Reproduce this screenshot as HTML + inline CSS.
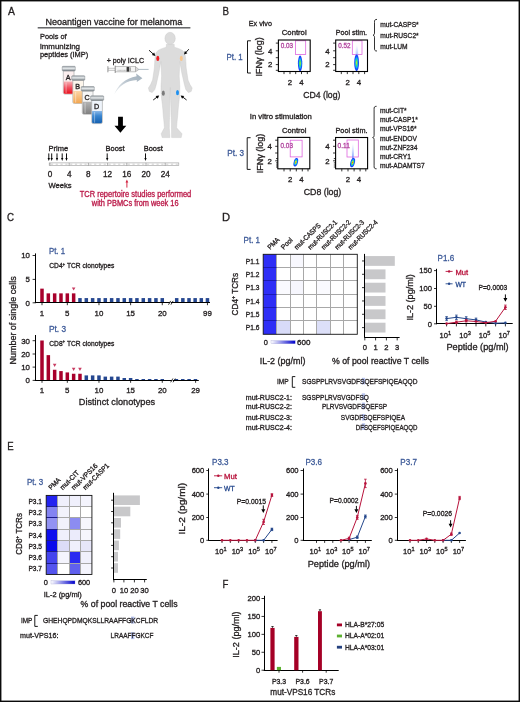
<!DOCTYPE html><html><head><meta charset="utf-8"><style>html,body{margin:0;padding:0;background:#fff;overflow:hidden;}svg{display:block;will-change:transform;}svg text{stroke-width:0.32px;}</style></head><body>
<svg width="520" height="702" viewBox="0 0 520 702" font-family='"Liberation Sans", sans-serif'>
<defs><linearGradient id="gsc" x1="0" x2="1" y1="0" y2="0"><stop offset="0" stop-color="#ffffff"/><stop offset="1" stop-color="#0000cc"/></linearGradient><linearGradient id="lA" x1="0" x2="0" y1="0" y2="1"><stop offset="0" stop-color="#f6b0b4"/><stop offset="0.5" stop-color="#f05060"/><stop offset="1" stop-color="#e8101c"/></linearGradient><linearGradient id="lB" x1="0" x2="0" y1="0" y2="1"><stop offset="0" stop-color="#fbd6a8"/><stop offset="1" stop-color="#f2a650"/></linearGradient><linearGradient id="lC" x1="0" x2="0" y1="0" y2="1"><stop offset="0" stop-color="#b4b4b4"/><stop offset="1" stop-color="#808080"/></linearGradient><linearGradient id="lD" x1="0" x2="0" y1="0" y2="1"><stop offset="0" stop-color="#8ab8e8"/><stop offset="0.4" stop-color="#3a86d0"/><stop offset="1" stop-color="#1560b0"/></linearGradient><linearGradient id="cap" x1="0" x2="0" y1="0" y2="1"><stop offset="0" stop-color="#9aa2a8"/><stop offset="0.45" stop-color="#e4e8ea"/><stop offset="1" stop-color="#7c848a"/></linearGradient><radialGradient id="blobA" cx="0.5" cy="0.5" r="0.5"><stop offset="0" stop-color="#e0e030"/><stop offset="0.3" stop-color="#40e070"/><stop offset="0.55" stop-color="#10b0f0"/><stop offset="0.8" stop-color="#1048ff"/><stop offset="1" stop-color="#2040f0"/></radialGradient><radialGradient id="blobB" cx="0.5" cy="0.5" r="0.5"><stop offset="0" stop-color="#f04818"/><stop offset="0.22" stop-color="#f0d020"/><stop offset="0.42" stop-color="#40e070"/><stop offset="0.62" stop-color="#10a8f0"/><stop offset="0.85" stop-color="#1040ff"/><stop offset="1" stop-color="#2040e8"/></radialGradient><linearGradient id="tail" x1="0" x2="0" y1="0" y2="1"><stop offset="0" stop-color="#c8d4ff" stop-opacity="0"/><stop offset="0.5" stop-color="#8aa4ff" stop-opacity="0.55"/><stop offset="1" stop-color="#3060ff" stop-opacity="0.9"/></linearGradient><linearGradient id="carrow" x1="0" x2="1" y1="1" y2="0"><stop offset="0" stop-color="#eef1f3"/><stop offset="0.6" stop-color="#b4c0ca"/><stop offset="1" stop-color="#a2b0bc"/></linearGradient></defs>
<rect x="0" y="0" width="520" height="702" fill="#fff"/>
<text x="7.9" y="15.4" font-size="11.2" textLength="6.9" lengthAdjust="spacingAndGlyphs" fill="#231f20" stroke="#231f20">A</text>
<text x="45.4" y="24.6" font-size="9.6" textLength="137" lengthAdjust="spacingAndGlyphs" fill="#231f20" stroke="#231f20">Neoantigen vaccine for melanoma</text>
<rect x="37.7" y="27.1" width="152.7" height="1.4" fill="#58595b"/>
<text x="40" y="38.7" font-size="8.0" textLength="26.6" lengthAdjust="spacingAndGlyphs" fill="#231f20" stroke="#231f20">Pools of</text>
<text x="40" y="48.8" font-size="8.0" textLength="40" lengthAdjust="spacingAndGlyphs" fill="#231f20" stroke="#231f20">immunizing</text>
<text x="40" y="57.2" font-size="8.0" textLength="48.2" lengthAdjust="spacingAndGlyphs" fill="#231f20" stroke="#231f20">peptides (IMP)</text>
<path d="M63.300000000000004,70.89999999999999 L63.300000000000004,92.6 Q63.300000000000004,94.1 64.80000000000001,94.1 L72.5,94.1 Q74.0,94.1 74.0,92.6 L74.0,70.89999999999999 Z" fill="#fcefef" stroke="#aeaeae" stroke-width="0.7"/>
<path d="M63.7,81.49999999999999 L63.7,92.6 Q63.7,93.8 65.10000000000001,93.8 L72.2,93.8 Q73.6,93.8 73.6,92.6 L73.6,81.49999999999999 Z" fill="url(#lA)" stroke="none" stroke-width="1"/>
<rect x="65.5" y="82.49999999999999" width="1.2" height="10.7" fill="#ffffff" opacity="0.35"/>
<rect x="62.2" y="66.3" width="13.1" height="4.6" rx="0.8" fill="url(#cap)" stroke="#6e767c" stroke-width="0.4"/>
<text x="68.2" y="79.49999999999999" font-size="7.2" text-anchor="middle" fill="#231f20" stroke="#231f20">A</text>
<path d="M72.8,80.3 L72.8,102.0 Q72.8,103.5 74.3,103.5 L82.0,103.5 Q83.5,103.5 83.5,102.0 L83.5,80.3 Z" fill="#fdf6ec" stroke="#aeaeae" stroke-width="0.7"/>
<path d="M73.2,90.89999999999999 L73.2,102.0 Q73.2,103.2 74.6,103.2 L81.7,103.2 Q83.1,103.2 83.1,102.0 L83.1,90.89999999999999 Z" fill="url(#lB)" stroke="none" stroke-width="1"/>
<rect x="75.0" y="91.89999999999999" width="1.2" height="10.7" fill="#ffffff" opacity="0.35"/>
<rect x="71.7" y="75.7" width="13.1" height="4.6" rx="0.8" fill="url(#cap)" stroke="#6e767c" stroke-width="0.4"/>
<text x="77.7" y="88.89999999999999" font-size="7.2" text-anchor="middle" fill="#231f20" stroke="#231f20">B</text>
<path d="M82.3,91.1 L82.3,112.8 Q82.3,114.3 83.8,114.3 L91.5,114.3 Q93.0,114.3 93.0,112.8 L93.0,91.1 Z" fill="#f6f6f6" stroke="#aeaeae" stroke-width="0.7"/>
<path d="M82.7,101.69999999999999 L82.7,112.8 Q82.7,114.0 84.1,114.0 L91.2,114.0 Q92.6,114.0 92.6,112.8 L92.6,101.69999999999999 Z" fill="url(#lC)" stroke="none" stroke-width="1"/>
<rect x="84.5" y="102.69999999999999" width="1.2" height="10.7" fill="#ffffff" opacity="0.35"/>
<rect x="81.2" y="86.5" width="13.1" height="4.6" rx="0.8" fill="url(#cap)" stroke="#6e767c" stroke-width="0.4"/>
<text x="87.2" y="99.69999999999999" font-size="7.2" text-anchor="middle" fill="#231f20" stroke="#231f20">C</text>
<path d="M91.69999999999999,100.39999999999999 L91.69999999999999,122.1 Q91.69999999999999,123.6 93.19999999999999,123.6 L100.89999999999999,123.6 Q102.39999999999999,123.6 102.39999999999999,122.1 L102.39999999999999,100.39999999999999 Z" fill="#eef4fb" stroke="#aeaeae" stroke-width="0.7"/>
<path d="M92.1,110.99999999999999 L92.1,122.1 Q92.1,123.3 93.49999999999999,123.3 L100.6,123.3 Q101.99999999999999,123.3 101.99999999999999,122.1 L101.99999999999999,110.99999999999999 Z" fill="url(#lD)" stroke="none" stroke-width="1"/>
<rect x="93.89999999999999" y="111.99999999999999" width="1.2" height="10.7" fill="#ffffff" opacity="0.35"/>
<rect x="90.6" y="95.8" width="13.1" height="4.6" rx="0.8" fill="url(#cap)" stroke="#6e767c" stroke-width="0.4"/>
<text x="96.6" y="108.99999999999999" font-size="7.2" text-anchor="middle" fill="#231f20" stroke="#231f20">D</text>
<line x1="107.9" y1="66.2" x2="107.9" y2="72.3" stroke="#7a7a7a" stroke-width="0.8"/>
<rect x="108.3" y="68.1" width="7.0" height="2.2" fill="#f2f2f2" stroke="#8a8a8a" stroke-width="0.4"/>
<line x1="115.2" y1="65.6" x2="115.2" y2="73.0" stroke="#7a7a7a" stroke-width="0.8"/>
<rect x="115.6" y="66.6" width="20.0" height="5.3" fill="#f4f4f4" stroke="#8c8c8c" stroke-width="0.5"/>
<line x1="118.0" y1="69.8" x2="118.0" y2="71.0" stroke="#6a6a6a" stroke-width="0.35"/>
<line x1="119.3" y1="69.8" x2="119.3" y2="71.0" stroke="#6a6a6a" stroke-width="0.35"/>
<line x1="120.6" y1="69.8" x2="120.6" y2="71.0" stroke="#6a6a6a" stroke-width="0.35"/>
<line x1="121.9" y1="69.8" x2="121.9" y2="71.0" stroke="#6a6a6a" stroke-width="0.35"/>
<line x1="123.2" y1="69.8" x2="123.2" y2="71.0" stroke="#6a6a6a" stroke-width="0.35"/>
<line x1="124.5" y1="69.8" x2="124.5" y2="71.0" stroke="#6a6a6a" stroke-width="0.35"/>
<line x1="125.8" y1="69.8" x2="125.8" y2="71.0" stroke="#6a6a6a" stroke-width="0.35"/>
<rect x="126.6" y="66.9" width="2.6" height="4.7" fill="#3a3a3a"/>
<rect x="129.6" y="67.3" width="1.2" height="3.9" fill="#9a9a9a"/>
<path d="M135.6,66.8 L138.2,68.7 L138.2,70.2 L135.6,71.7 Z" fill="#dcdcdc" stroke="#8a8a8a" stroke-width="0.4"/>
<line x1="138.2" y1="69.4" x2="148.6" y2="69.4" stroke="#8fa0ad" stroke-width="0.7"/>
<text x="106.7" y="63.1" font-size="7.5" textLength="37.4" lengthAdjust="spacingAndGlyphs" fill="#231f20" stroke="#231f20">+ poly ICLC</text>
<path d="M114.2,94.6 C117.5,85.5 125,78.3 136.6,76.3 L136.1,73.4 L142.4,78.3 L136.8,82.0 L136.8,80.0 C126.5,80.6 119,86 114.2,94.6 Z" fill="url(#carrow)" stroke="none" stroke-width="1"/>
<path d="M166.4,44.2 L166.3,47.2 C162.5,48.3 158.2,49.6 156.4,52.2 C155.0,54.5 154.8,60 154.4,68 L152.6,80 L150.6,84.6 L148.4,88.0 L149.4,91.4 L152.2,92.6 L154.8,89.6 L156.3,84.4 L158.8,73 L160.9,61.5 L161.6,76 L161.0,86 C160.6,95 162.4,103 162.9,110 C163.2,117 164.2,122 164.4,127.8 L161.2,133.8 L162.2,137.6 L169.9,137.6 L169.3,128 C169.3,120 169.8,114 169.7,108 L170.3,87.5 L170.9,108 C170.9,114 171.5,120 171.5,128 L171.6,137.6 L181.2,137.6 L182.0,133.8 L176.6,127.8 C176.8,122 177.8,117 178.1,110 C178.6,103 180.2,95 179.8,86 L179.2,76 L179.8,61.5 L181.8,73 L184.4,84.4 L185.8,89.6 L188.4,92.6 L191.2,91.4 L192.2,88.0 L190.0,84.6 L188.0,80 L186.2,68 C185.8,60 185.6,54.5 184.2,52.2 C182.4,49.6 178.1,48.3 174.3,47.2 L174.2,44.2 Z" fill="#dcdcdc" stroke="#c8c8c8" stroke-width="0.4"/>
<ellipse cx="170.1" cy="38.4" rx="5.2" ry="6.1" fill="#dcdcdc" stroke="#c8c8c8" stroke-width="0.4"/>
<ellipse cx="157.8" cy="58.4" rx="1.5" ry="2.6" fill="#ee1c24"/>
<ellipse cx="181.3" cy="58.4" rx="1.5" ry="2.6" fill="#f9c68c"/>
<ellipse cx="163.3" cy="93.2" rx="1.5" ry="2.6" fill="#7a7a7a"/>
<ellipse cx="177.5" cy="92.7" rx="1.5" ry="2.6" fill="#1e90f0"/>
<line x1="149.0" y1="50.2" x2="153.39933523112285" y2="54.186897553205085" stroke="#000" stroke-width="0.9"/>
<path d="M155.4,56.0 L151.8872587333488,55.11081565827683 L154.17042477746094,52.59146002339448 Z" fill="#000" stroke="none" stroke-width="1"/>
<line x1="188.8" y1="49.2" x2="185.7937823648408" y2="52.58199483955413" stroke="#000" stroke-width="0.9"/>
<path d="M184.0,54.6 L184.85536844249353,51.07887165420143 L187.396560126018,53.33770870622316 Z" fill="#000" stroke="none" stroke-width="1"/>
<line x1="153.2" y1="100.0" x2="157.0572628245118" y2="97.04276516787426" stroke="#000" stroke-width="0.9"/>
<path d="M159.2,95.4 L157.694793268083,98.69611175389909 L155.62612601964872,95.99785012550657 Z" fill="#000" stroke="none" stroke-width="1"/>
<line x1="186.6" y1="100.0" x2="182.74273717548817" y2="97.04276516787426" stroke="#000" stroke-width="0.9"/>
<path d="M180.6,95.4 L184.17387398035126,95.99785012550657 L182.10520673191698,98.69611175389909 Z" fill="#000" stroke="none" stroke-width="1"/>
<path d="M118.1,116.8 L122.9,116.8 L122.9,125.8 L126.3,125.8 L120.4,132.8 L114.5,125.8 L118.1,125.8 Z" fill="#000" stroke="none" stroke-width="1"/>
<text x="48.5" y="150.5" font-size="7.6" textLength="19.6" lengthAdjust="spacingAndGlyphs" fill="#231f20" stroke="#231f20">Prime</text>
<text x="105.5" y="150.5" font-size="7.6" textLength="19.1" lengthAdjust="spacingAndGlyphs" fill="#231f20" stroke="#231f20">Boost</text>
<text x="143.7" y="150.5" font-size="7.6" textLength="19.1" lengthAdjust="spacingAndGlyphs" fill="#231f20" stroke="#231f20">Boost</text>
<line x1="48.8" y1="153.4" x2="48.8" y2="158.4" stroke="#000" stroke-width="0.95"/>
<path d="M47.65,157.9 L49.949999999999996,157.9 L48.8,160.9 Z" fill="#000" stroke="none" stroke-width="1"/>
<line x1="51.7" y1="153.4" x2="51.7" y2="158.4" stroke="#000" stroke-width="0.95"/>
<path d="M50.550000000000004,157.9 L52.85,157.9 L51.7,160.9 Z" fill="#000" stroke="none" stroke-width="1"/>
<line x1="57.0" y1="153.4" x2="57.0" y2="158.4" stroke="#000" stroke-width="0.95"/>
<path d="M55.85,157.9 L58.15,157.9 L57.0,160.9 Z" fill="#000" stroke="none" stroke-width="1"/>
<line x1="62.2" y1="153.4" x2="62.2" y2="158.4" stroke="#000" stroke-width="0.95"/>
<path d="M61.050000000000004,157.9 L63.35,157.9 L62.2,160.9 Z" fill="#000" stroke="none" stroke-width="1"/>
<line x1="66.5" y1="153.4" x2="66.5" y2="158.4" stroke="#000" stroke-width="0.95"/>
<path d="M65.35,157.9 L67.65,157.9 L66.5,160.9 Z" fill="#000" stroke="none" stroke-width="1"/>
<line x1="107.2" y1="153.4" x2="107.2" y2="158.4" stroke="#000" stroke-width="0.95"/>
<path d="M106.05,157.9 L108.35000000000001,157.9 L107.2,160.9 Z" fill="#000" stroke="none" stroke-width="1"/>
<line x1="145.5" y1="153.4" x2="145.5" y2="158.4" stroke="#000" stroke-width="0.95"/>
<path d="M144.35,157.9 L146.65,157.9 L145.5,160.9 Z" fill="#000" stroke="none" stroke-width="1"/>
<rect x="49.2" y="162.9" width="129.6" height="2.6" fill="#fff" stroke="#9a9a9a" stroke-width="0.6"/>
<line x1="50.9" y1="164.2" x2="53.1" y2="164.2" stroke="#adadad" stroke-width="0.55"/>
<line x1="55.699999999999996" y1="164.2" x2="57.9" y2="164.2" stroke="#adadad" stroke-width="0.55"/>
<line x1="60.5" y1="164.2" x2="62.7" y2="164.2" stroke="#adadad" stroke-width="0.55"/>
<line x1="65.30000000000001" y1="164.2" x2="67.5" y2="164.2" stroke="#adadad" stroke-width="0.55"/>
<line x1="70.10000000000001" y1="164.2" x2="72.3" y2="164.2" stroke="#adadad" stroke-width="0.55"/>
<line x1="74.9" y1="164.2" x2="77.1" y2="164.2" stroke="#adadad" stroke-width="0.55"/>
<line x1="79.7" y1="164.2" x2="81.89999999999999" y2="164.2" stroke="#adadad" stroke-width="0.55"/>
<line x1="84.5" y1="164.2" x2="86.69999999999999" y2="164.2" stroke="#adadad" stroke-width="0.55"/>
<line x1="89.30000000000001" y1="164.2" x2="91.5" y2="164.2" stroke="#adadad" stroke-width="0.55"/>
<line x1="94.1" y1="164.2" x2="96.29999999999998" y2="164.2" stroke="#adadad" stroke-width="0.55"/>
<line x1="98.9" y1="164.2" x2="101.1" y2="164.2" stroke="#adadad" stroke-width="0.55"/>
<line x1="103.7" y1="164.2" x2="105.89999999999999" y2="164.2" stroke="#adadad" stroke-width="0.55"/>
<line x1="108.5" y1="164.2" x2="110.69999999999999" y2="164.2" stroke="#adadad" stroke-width="0.55"/>
<line x1="113.30000000000001" y1="164.2" x2="115.5" y2="164.2" stroke="#adadad" stroke-width="0.55"/>
<line x1="118.10000000000001" y1="164.2" x2="120.3" y2="164.2" stroke="#adadad" stroke-width="0.55"/>
<line x1="122.9" y1="164.2" x2="125.1" y2="164.2" stroke="#adadad" stroke-width="0.55"/>
<line x1="127.7" y1="164.2" x2="129.9" y2="164.2" stroke="#adadad" stroke-width="0.55"/>
<line x1="132.5" y1="164.2" x2="134.7" y2="164.2" stroke="#adadad" stroke-width="0.55"/>
<line x1="137.29999999999998" y1="164.2" x2="139.49999999999997" y2="164.2" stroke="#adadad" stroke-width="0.55"/>
<line x1="142.1" y1="164.2" x2="144.29999999999998" y2="164.2" stroke="#adadad" stroke-width="0.55"/>
<line x1="146.9" y1="164.2" x2="149.1" y2="164.2" stroke="#adadad" stroke-width="0.55"/>
<line x1="151.70000000000002" y1="164.2" x2="153.9" y2="164.2" stroke="#adadad" stroke-width="0.55"/>
<line x1="156.5" y1="164.2" x2="158.7" y2="164.2" stroke="#adadad" stroke-width="0.55"/>
<line x1="161.29999999999998" y1="164.2" x2="163.49999999999997" y2="164.2" stroke="#adadad" stroke-width="0.55"/>
<line x1="166.1" y1="164.2" x2="168.29999999999998" y2="164.2" stroke="#adadad" stroke-width="0.55"/>
<line x1="170.9" y1="164.2" x2="173.1" y2="164.2" stroke="#adadad" stroke-width="0.55"/>
<line x1="175.70000000000002" y1="164.2" x2="177.9" y2="164.2" stroke="#adadad" stroke-width="0.55"/>
<line x1="50.0" y1="162.9" x2="50.0" y2="165.5" stroke="#7a7a7a" stroke-width="0.6"/>
<line x1="69.2" y1="162.9" x2="69.2" y2="165.5" stroke="#7a7a7a" stroke-width="0.6"/>
<line x1="88.4" y1="162.9" x2="88.4" y2="165.5" stroke="#7a7a7a" stroke-width="0.6"/>
<line x1="107.6" y1="162.9" x2="107.6" y2="165.5" stroke="#7a7a7a" stroke-width="0.6"/>
<line x1="126.8" y1="162.9" x2="126.8" y2="165.5" stroke="#7a7a7a" stroke-width="0.6"/>
<line x1="146.0" y1="162.9" x2="146.0" y2="165.5" stroke="#7a7a7a" stroke-width="0.6"/>
<line x1="165.2" y1="162.9" x2="165.2" y2="165.5" stroke="#7a7a7a" stroke-width="0.6"/>
<text x="50.0" y="176.6" font-size="8.2" text-anchor="middle" fill="#231f20" stroke="#231f20">0</text>
<text x="69.2" y="176.6" font-size="8.2" text-anchor="middle" fill="#231f20" stroke="#231f20">4</text>
<text x="88.4" y="176.6" font-size="8.2" text-anchor="middle" fill="#231f20" stroke="#231f20">8</text>
<text x="107.6" y="176.6" font-size="8.2" text-anchor="middle" fill="#231f20" stroke="#231f20">12</text>
<text x="126.8" y="176.6" font-size="8.2" text-anchor="middle" fill="#231f20" stroke="#231f20">16</text>
<text x="146.0" y="176.6" font-size="8.2" text-anchor="middle" fill="#231f20" stroke="#231f20">20</text>
<text x="165.2" y="176.6" font-size="8.2" text-anchor="middle" fill="#231f20" stroke="#231f20">24</text>
<text x="48.6" y="188.4" font-size="7.6" fill="#231f20" stroke="#231f20">Weeks</text>
<line x1="126.9" y1="181.9" x2="126.9" y2="187.6" stroke="#d21e3c" stroke-width="0.95"/>
<path d="M125.5,182.4 L128.3,182.4 L126.9,179.4 Z" fill="#d21e3c" stroke="none" stroke-width="1"/>
<text x="79.7" y="197.0" font-size="8.2" textLength="111.6" lengthAdjust="spacingAndGlyphs" fill="#bb1a49" stroke="#bb1a49">TCR repertoire studies performed</text>
<text x="91.8" y="206.2" font-size="8.2" textLength="86.8" lengthAdjust="spacingAndGlyphs" fill="#bb1a49" stroke="#bb1a49">with PBMCs from week 16</text>
<text x="222.4" y="15.3" font-size="11.2" textLength="6.5" lengthAdjust="spacingAndGlyphs" fill="#231f20" stroke="#231f20">B</text>
<text x="248.8" y="25.7" font-size="7.6" textLength="23.1" lengthAdjust="spacingAndGlyphs" fill="#231f20" stroke="#231f20">Ex vivo</text>
<text x="281.8" y="35.0" font-size="7.6" textLength="24.8" lengthAdjust="spacingAndGlyphs" fill="#231f20" stroke="#231f20">Control</text>
<text x="335.8" y="35.2" font-size="7.6" textLength="31.3" lengthAdjust="spacingAndGlyphs" fill="#231f20" stroke="#231f20">Pool stim.</text>
<rect x="295.4" y="40.8" width="10.300000000000011" height="13.700000000000003" fill="none" stroke="#dc5cdc" stroke-width="0.75"/>
<ellipse cx="0" cy="0" rx="2.2" ry="7.8" fill="url(#blobA)" transform="translate(300.1,63.4) rotate(0)"/>
<rect x="278.4" y="40.0" width="31.8" height="31.5" fill="none" stroke="#000" stroke-width="1.1"/>
<text x="280.8" y="48.4" font-size="7.0" textLength="12.3" lengthAdjust="spacingAndGlyphs" fill="#b2479f" stroke="#b2479f">0.03</text>
<line x1="275.79999999999995" y1="43.1" x2="278.4" y2="43.1" stroke="#000" stroke-width="0.8"/>
<line x1="275.79999999999995" y1="50.8" x2="278.4" y2="50.8" stroke="#000" stroke-width="0.8"/>
<line x1="275.79999999999995" y1="57.7" x2="278.4" y2="57.7" stroke="#000" stroke-width="0.8"/>
<line x1="275.79999999999995" y1="64.6" x2="278.4" y2="64.6" stroke="#000" stroke-width="0.8"/>
<line x1="275.79999999999995" y1="70.3" x2="278.4" y2="70.3" stroke="#000" stroke-width="0.8"/>
<line x1="284.0" y1="71.5" x2="284.0" y2="74.1" stroke="#000" stroke-width="0.8"/>
<line x1="290.0" y1="71.5" x2="290.0" y2="74.1" stroke="#000" stroke-width="0.8"/>
<line x1="295.7" y1="71.5" x2="295.7" y2="74.1" stroke="#000" stroke-width="0.8"/>
<line x1="301.5" y1="71.5" x2="301.5" y2="74.1" stroke="#000" stroke-width="0.8"/>
<line x1="307.3" y1="71.5" x2="307.3" y2="74.1" stroke="#000" stroke-width="0.8"/>
<text x="270.2" y="53.599999999999994" font-size="7.8" text-anchor="middle" fill="#231f20" stroke="#231f20">4</text>
<text x="270.2" y="67.39999999999999" font-size="7.8" text-anchor="middle" fill="#231f20" stroke="#231f20">2</text>
<text x="290.0" y="84.7" font-size="7.8" text-anchor="middle" fill="#231f20" stroke="#231f20">2</text>
<text x="301.5" y="84.7" font-size="7.8" text-anchor="middle" fill="#231f20" stroke="#231f20">4</text>
<rect x="352.3" y="40.8" width="9.699999999999989" height="13.800000000000004" fill="none" stroke="#dc5cdc" stroke-width="0.75"/>
<ellipse cx="356.90000000000003" cy="53.65" rx="1.3" ry="9.149999999999999" fill="url(#tail)"/>
<ellipse cx="0" cy="0" rx="2.4" ry="8.4" fill="url(#blobA)" transform="translate(356.6,62.8) rotate(0)"/>
<rect x="335.7" y="40.0" width="31.8" height="31.5" fill="none" stroke="#000" stroke-width="1.1"/>
<text x="338.3" y="48.4" font-size="7.0" textLength="12.3" lengthAdjust="spacingAndGlyphs" fill="#b2479f" stroke="#b2479f">0.52</text>
<line x1="333.09999999999997" y1="43.1" x2="335.7" y2="43.1" stroke="#000" stroke-width="0.8"/>
<line x1="333.09999999999997" y1="50.8" x2="335.7" y2="50.8" stroke="#000" stroke-width="0.8"/>
<line x1="333.09999999999997" y1="57.7" x2="335.7" y2="57.7" stroke="#000" stroke-width="0.8"/>
<line x1="333.09999999999997" y1="64.6" x2="335.7" y2="64.6" stroke="#000" stroke-width="0.8"/>
<line x1="333.09999999999997" y1="70.3" x2="335.7" y2="70.3" stroke="#000" stroke-width="0.8"/>
<line x1="341.3" y1="71.5" x2="341.3" y2="74.1" stroke="#000" stroke-width="0.8"/>
<line x1="347.3" y1="71.5" x2="347.3" y2="74.1" stroke="#000" stroke-width="0.8"/>
<line x1="353.0" y1="71.5" x2="353.0" y2="74.1" stroke="#000" stroke-width="0.8"/>
<line x1="358.8" y1="71.5" x2="358.8" y2="74.1" stroke="#000" stroke-width="0.8"/>
<line x1="364.6" y1="71.5" x2="364.6" y2="74.1" stroke="#000" stroke-width="0.8"/>
<text x="327.5" y="53.599999999999994" font-size="7.8" text-anchor="middle" fill="#231f20" stroke="#231f20">4</text>
<text x="327.5" y="67.39999999999999" font-size="7.8" text-anchor="middle" fill="#231f20" stroke="#231f20">2</text>
<text x="347.6" y="84.7" font-size="7.8" text-anchor="middle" fill="#231f20" stroke="#231f20">2</text>
<text x="359.0" y="84.7" font-size="7.8" text-anchor="middle" fill="#231f20" stroke="#231f20">4</text>
<text x="226.5" y="59.5" font-size="9.5" textLength="16.2" lengthAdjust="spacingAndGlyphs" fill="#3d5a98" stroke="#3d5a98">Pt. 1</text>
<path d="M250.9,40.8 L247.5,40.8 L247.5,73.0 L250.9,73.0" fill="none" stroke="#000" stroke-width="0.9"/>
<text transform="translate(262.3,56.9) rotate(-90)" x="0" y="0" font-size="8.8" textLength="39.2" lengthAdjust="spacingAndGlyphs" text-anchor="middle" fill="#231f20" stroke="#231f20">IFNγ (log)</text>
<text x="303.2" y="97.9" font-size="9.4" textLength="37.2" lengthAdjust="spacingAndGlyphs" fill="#231f20" stroke="#231f20">CD4 (log)</text>
<path d="M377.0,19.4 C374.5,19.4 374.5,20.4 374.5,22.4 L374.5,33.2 C374.5,34.5 373.7,35.2 373.0,35.2 C373.7,35.2 374.5,35.900000000000006 374.5,37.2 L374.5,48.0 C374.5,50.0 374.5,51.0 377.0,51.0" fill="none" stroke="#000" stroke-width="0.8"/>
<text x="380.2" y="27.0" font-size="7.4" textLength="38.49" lengthAdjust="spacingAndGlyphs" fill="#231f20" stroke="#231f20">mut-CASPS*</text>
<text x="380.2" y="37.85" font-size="7.4" textLength="38.49" lengthAdjust="spacingAndGlyphs" fill="#231f20" stroke="#231f20">mut-RUSC2*</text>
<text x="380.2" y="48.7" font-size="7.4" textLength="27.38" lengthAdjust="spacingAndGlyphs" fill="#231f20" stroke="#231f20">mut-LUM</text>
<text x="249.8" y="119.0" font-size="7.6" textLength="62.1" lengthAdjust="spacingAndGlyphs" fill="#231f20" stroke="#231f20">In vitro stimulation</text>
<text x="281.9" y="133.0" font-size="7.6" textLength="24.6" lengthAdjust="spacingAndGlyphs" fill="#231f20" stroke="#231f20">Control</text>
<text x="335.5" y="133.0" font-size="7.6" textLength="32.0" lengthAdjust="spacingAndGlyphs" fill="#231f20" stroke="#231f20">Pool stim.</text>
<rect x="290.2" y="140.2" width="11.900000000000034" height="16.700000000000017" fill="none" stroke="#dc5cdc" stroke-width="0.75"/>
<ellipse cx="0" cy="0" rx="2.1" ry="4.4" fill="url(#blobB)" transform="translate(295.8,162.2) rotate(15)"/>
<rect x="277.8" y="137.4" width="32.0" height="31.4" fill="none" stroke="#000" stroke-width="1.1"/>
<text x="280.6" y="147.79999999999998" font-size="7.0" textLength="12.3" lengthAdjust="spacingAndGlyphs" fill="#b2479f" stroke="#b2479f">0.03</text>
<line x1="275.2" y1="140.2" x2="277.8" y2="140.2" stroke="#000" stroke-width="0.8"/>
<line x1="275.2" y1="146.3" x2="277.8" y2="146.3" stroke="#000" stroke-width="0.8"/>
<line x1="275.2" y1="153.0" x2="277.8" y2="153.0" stroke="#000" stroke-width="0.8"/>
<line x1="276.0" y1="158.6" x2="277.8" y2="158.6" stroke="#000" stroke-width="0.8"/>
<line x1="275.2" y1="160.8" x2="277.8" y2="160.8" stroke="#000" stroke-width="0.8"/>
<line x1="276.0" y1="162.9" x2="277.8" y2="162.9" stroke="#000" stroke-width="0.8"/>
<line x1="276.0" y1="165.0" x2="277.8" y2="165.0" stroke="#000" stroke-width="0.8"/>
<line x1="276.0" y1="167.0" x2="277.8" y2="167.0" stroke="#000" stroke-width="0.8"/>
<line x1="284.0" y1="168.8" x2="284.0" y2="171.4" stroke="#000" stroke-width="0.8"/>
<line x1="290.2" y1="168.8" x2="290.2" y2="171.4" stroke="#000" stroke-width="0.8"/>
<line x1="296.3" y1="168.8" x2="296.3" y2="171.4" stroke="#000" stroke-width="0.8"/>
<line x1="302.3" y1="168.8" x2="302.3" y2="171.4" stroke="#000" stroke-width="0.8"/>
<line x1="308.0" y1="168.8" x2="308.0" y2="171.4" stroke="#000" stroke-width="0.8"/>
<text x="269.6" y="149.10000000000002" font-size="7.8" text-anchor="middle" fill="#231f20" stroke="#231f20">4</text>
<text x="269.6" y="163.60000000000002" font-size="7.8" text-anchor="middle" fill="#231f20" stroke="#231f20">2</text>
<text x="290.2" y="182.0" font-size="7.8" text-anchor="middle" fill="#231f20" stroke="#231f20">2</text>
<text x="301.3" y="182.0" font-size="7.8" text-anchor="middle" fill="#231f20" stroke="#231f20">4</text>
<rect x="347.0" y="140.0" width="11.300000000000011" height="17.0" fill="none" stroke="#dc5cdc" stroke-width="0.75"/>
<ellipse cx="352.90000000000003" cy="152.55" rx="1.0" ry="10.049999999999997" fill="url(#tail)"/>
<ellipse cx="0" cy="0" rx="2.2" ry="4.8" fill="url(#blobB)" transform="translate(352.6,162.6) rotate(15)"/>
<rect x="335.6" y="137.5" width="32.0" height="31.3" fill="none" stroke="#000" stroke-width="1.1"/>
<text x="337.5" y="147.6" font-size="7.0" textLength="12.3" lengthAdjust="spacingAndGlyphs" fill="#b2479f" stroke="#b2479f">0.11</text>
<line x1="333.0" y1="140.2" x2="335.6" y2="140.2" stroke="#000" stroke-width="0.8"/>
<line x1="333.0" y1="146.3" x2="335.6" y2="146.3" stroke="#000" stroke-width="0.8"/>
<line x1="333.0" y1="153.0" x2="335.6" y2="153.0" stroke="#000" stroke-width="0.8"/>
<line x1="333.8" y1="158.6" x2="335.6" y2="158.6" stroke="#000" stroke-width="0.8"/>
<line x1="333.0" y1="160.8" x2="335.6" y2="160.8" stroke="#000" stroke-width="0.8"/>
<line x1="333.8" y1="162.9" x2="335.6" y2="162.9" stroke="#000" stroke-width="0.8"/>
<line x1="333.8" y1="165.0" x2="335.6" y2="165.0" stroke="#000" stroke-width="0.8"/>
<line x1="333.8" y1="167.0" x2="335.6" y2="167.0" stroke="#000" stroke-width="0.8"/>
<line x1="341.8" y1="168.8" x2="341.8" y2="171.4" stroke="#000" stroke-width="0.8"/>
<line x1="348.0" y1="168.8" x2="348.0" y2="171.4" stroke="#000" stroke-width="0.8"/>
<line x1="354.1" y1="168.8" x2="354.1" y2="171.4" stroke="#000" stroke-width="0.8"/>
<line x1="360.1" y1="168.8" x2="360.1" y2="171.4" stroke="#000" stroke-width="0.8"/>
<line x1="365.8" y1="168.8" x2="365.8" y2="171.4" stroke="#000" stroke-width="0.8"/>
<text x="327.40000000000003" y="149.10000000000002" font-size="7.8" text-anchor="middle" fill="#231f20" stroke="#231f20">4</text>
<text x="327.40000000000003" y="163.60000000000002" font-size="7.8" text-anchor="middle" fill="#231f20" stroke="#231f20">2</text>
<text x="347.8" y="182.0" font-size="7.8" text-anchor="middle" fill="#231f20" stroke="#231f20">2</text>
<text x="359.0" y="182.0" font-size="7.8" text-anchor="middle" fill="#231f20" stroke="#231f20">4</text>
<text x="227.3" y="156.0" font-size="9.5" textLength="16.7" lengthAdjust="spacingAndGlyphs" fill="#3d5a98" stroke="#3d5a98">Pt. 3</text>
<path d="M250.6,137.7 L247.2,137.7 L247.2,169.4 L250.6,169.4" fill="none" stroke="#000" stroke-width="0.9"/>
<text transform="translate(263.2,153.5) rotate(-90)" x="0" y="0" font-size="8.8" textLength="39.5" lengthAdjust="spacingAndGlyphs" text-anchor="middle" fill="#231f20" stroke="#231f20">IFNγ (log)</text>
<text x="303.7" y="195.3" font-size="9.4" textLength="37.6" lengthAdjust="spacingAndGlyphs" fill="#231f20" stroke="#231f20">CD8 (log)</text>
<path d="M376.6,106.3 C374.1,106.3 374.1,107.3 374.1,109.3 L374.1,135.55 C374.1,136.85000000000002 373.3,137.55 372.6,137.55 C373.3,137.55 374.1,138.25 374.1,139.55 L374.1,165.8 C374.1,167.8 374.1,168.8 376.6,168.8" fill="none" stroke="#000" stroke-width="0.8"/>
<text x="380.0" y="113.0" font-size="7.4" textLength="26.64" lengthAdjust="spacingAndGlyphs" fill="#231f20" stroke="#231f20">mut-CIT*</text>
<text x="380.0" y="122.17" font-size="7.4" textLength="37.75" lengthAdjust="spacingAndGlyphs" fill="#231f20" stroke="#231f20">mut-CASP1*</text>
<text x="380.0" y="131.34" font-size="7.4" textLength="36.65" lengthAdjust="spacingAndGlyphs" fill="#231f20" stroke="#231f20">mut-VPS16*</text>
<text x="380.0" y="140.51" font-size="7.4" textLength="37.0" lengthAdjust="spacingAndGlyphs" fill="#231f20" stroke="#231f20">mut-ENDOV</text>
<text x="380.0" y="149.68" font-size="7.4" textLength="37.38" lengthAdjust="spacingAndGlyphs" fill="#231f20" stroke="#231f20">mut-ZNF234</text>
<text x="380.0" y="158.85" font-size="7.4" textLength="30.96" lengthAdjust="spacingAndGlyphs" fill="#231f20" stroke="#231f20">mut-CRY1</text>
<text x="380.0" y="168.01999999999998" font-size="7.4" textLength="44.77" lengthAdjust="spacingAndGlyphs" fill="#231f20" stroke="#231f20">mut-ADAMTS7</text>
<text x="7.0" y="221.0" font-size="11.0" textLength="7.0" lengthAdjust="spacingAndGlyphs" fill="#231f20" stroke="#231f20">C</text>
<rect x="40.25" y="288.64" width="3.5" height="14.16" fill="#a8002c"/>
<rect x="46.58" y="293.36" width="3.5" height="9.44" fill="#a8002c"/>
<rect x="52.91" y="293.36" width="3.5" height="9.44" fill="#a8002c"/>
<rect x="59.24" y="293.36" width="3.5" height="9.44" fill="#a8002c"/>
<rect x="65.57" y="293.36" width="3.5" height="9.44" fill="#a8002c"/>
<rect x="71.9" y="293.36" width="3.5" height="9.44" fill="#a8002c"/>
<rect x="78.23" y="298.08" width="3.5" height="4.72" fill="#254790"/>
<rect x="84.56" y="298.08" width="3.5" height="4.72" fill="#254790"/>
<rect x="90.89" y="298.08" width="3.5" height="4.72" fill="#254790"/>
<rect x="97.22" y="298.08" width="3.5" height="4.72" fill="#254790"/>
<rect x="103.55" y="298.08" width="3.5" height="4.72" fill="#254790"/>
<rect x="109.88" y="298.08" width="3.5" height="4.72" fill="#254790"/>
<rect x="116.21000000000001" y="298.08" width="3.5" height="4.72" fill="#254790"/>
<rect x="122.54" y="298.08" width="3.5" height="4.72" fill="#254790"/>
<rect x="128.87" y="298.08" width="3.5" height="4.72" fill="#254790"/>
<rect x="135.2" y="298.08" width="3.5" height="4.72" fill="#254790"/>
<rect x="141.53" y="298.08" width="3.5" height="4.72" fill="#254790"/>
<rect x="147.86" y="298.08" width="3.5" height="4.72" fill="#254790"/>
<rect x="154.19" y="298.08" width="3.5" height="4.72" fill="#254790"/>
<rect x="160.51999999999998" y="298.08" width="3.5" height="4.72" fill="#254790"/>
<rect x="174.95" y="298.08" width="3.5" height="4.72" fill="#254790"/>
<rect x="181.1" y="298.08" width="3.5" height="4.72" fill="#254790"/>
<rect x="187.25" y="298.08" width="3.5" height="4.72" fill="#254790"/>
<rect x="193.39999999999998" y="298.08" width="3.5" height="4.72" fill="#254790"/>
<rect x="199.54999999999998" y="298.08" width="3.5" height="4.72" fill="#254790"/>
<rect x="205.7" y="298.08" width="3.5" height="4.72" fill="#254790"/>
<line x1="35.5" y1="253.4" x2="35.5" y2="303.2" stroke="#000" stroke-width="1.0"/>
<line x1="34.800000000000004" y1="302.5" x2="210.0" y2="302.5" stroke="#000" stroke-width="1.0"/>
<path d="M168.50000000000003,304.7 L170.70000000000002,300.90000000000003 L171.70000000000002,300.90000000000003 L169.50000000000003,304.7 Z" fill="#fff" stroke="none" stroke-width="1"/>
<line x1="168.50000000000003" y1="304.7" x2="170.70000000000002" y2="300.90000000000003" stroke="#000" stroke-width="0.8"/>
<line x1="170.90000000000003" y1="304.7" x2="173.10000000000002" y2="300.90000000000003" stroke="#000" stroke-width="0.8"/>
<line x1="32.6" y1="255.5" x2="35.2" y2="255.5" stroke="#000" stroke-width="0.8"/>
<text x="30.000000000000004" y="258.3" font-size="7.9" text-anchor="end" fill="#231f20" stroke="#231f20">10</text>
<line x1="32.6" y1="279.4" x2="35.2" y2="279.4" stroke="#000" stroke-width="0.8"/>
<text x="30.000000000000004" y="282.2" font-size="7.9" text-anchor="end" fill="#231f20" stroke="#231f20">5</text>
<line x1="32.6" y1="302.8" x2="35.2" y2="302.8" stroke="#000" stroke-width="0.8"/>
<text x="30.000000000000004" y="305.6" font-size="7.9" text-anchor="end" fill="#231f20" stroke="#231f20">0</text>
<line x1="42.0" y1="302.8" x2="42.0" y2="305.2" stroke="#000" stroke-width="0.8"/>
<text x="42.0" y="315.8" font-size="7.9" text-anchor="middle" fill="#231f20" stroke="#231f20">1</text>
<line x1="67.32" y1="302.8" x2="67.32" y2="305.2" stroke="#000" stroke-width="0.8"/>
<text x="67.32" y="315.8" font-size="7.9" text-anchor="middle" fill="#231f20" stroke="#231f20">5</text>
<line x1="98.97" y1="302.8" x2="98.97" y2="305.2" stroke="#000" stroke-width="0.8"/>
<text x="98.97" y="315.8" font-size="7.9" text-anchor="middle" fill="#231f20" stroke="#231f20">10</text>
<line x1="130.62" y1="302.8" x2="130.62" y2="305.2" stroke="#000" stroke-width="0.8"/>
<text x="130.62" y="315.8" font-size="7.9" text-anchor="middle" fill="#231f20" stroke="#231f20">15</text>
<line x1="162.26999999999998" y1="302.8" x2="162.26999999999998" y2="305.2" stroke="#000" stroke-width="0.8"/>
<text x="162.26999999999998" y="315.8" font-size="7.9" text-anchor="middle" fill="#231f20" stroke="#231f20">20</text>
<line x1="207.45" y1="302.8" x2="207.45" y2="305.2" stroke="#000" stroke-width="0.8"/>
<text x="207.45" y="315.8" font-size="7.9" text-anchor="middle" fill="#231f20" stroke="#231f20">99</text>
<path d="M71.85000000000001,287.46000000000004 L75.45,287.46000000000004 L73.65,290.56000000000006 Z" fill="#c83c62" stroke="none" stroke-width="1"/>
<text x="49.0" y="254.0" font-size="9.5" textLength="16.0" lengthAdjust="spacingAndGlyphs" fill="#3d5a98" stroke="#3d5a98">Pt. 1</text>
<text x="49.3" y="268.4" font-size="7.4" fill="#231f20" textLength="65" lengthAdjust="spacingAndGlyphs" stroke="#231f20">CD4<tspan font-size="5" dy="-2.6">+</tspan><tspan dy="2.6"> TCR clonotypes</tspan></text>
<rect x="40.25" y="340.5" width="3.5" height="39.900000000000006" fill="#a8002c"/>
<rect x="46.58" y="355.13" width="3.5" height="25.270000000000003" fill="#a8002c"/>
<rect x="52.91" y="369.76" width="3.5" height="10.64" fill="#a8002c"/>
<rect x="59.24" y="371.09" width="3.5" height="9.31" fill="#a8002c"/>
<rect x="65.57" y="372.41999999999996" width="3.5" height="7.98" fill="#a8002c"/>
<rect x="71.9" y="373.75" width="3.5" height="6.65" fill="#a8002c"/>
<rect x="78.23" y="373.75" width="3.5" height="6.65" fill="#a8002c"/>
<rect x="84.56" y="375.4" width="3.5" height="5.0" fill="#254790"/>
<rect x="90.89" y="375.4" width="3.5" height="5.0" fill="#254790"/>
<rect x="97.22" y="375.4" width="3.5" height="5.0" fill="#254790"/>
<rect x="103.55" y="376.59999999999997" width="3.5" height="3.8" fill="#254790"/>
<rect x="109.88" y="376.59999999999997" width="3.5" height="3.8" fill="#254790"/>
<rect x="116.21000000000001" y="376.59999999999997" width="3.5" height="3.8" fill="#254790"/>
<rect x="122.54" y="378.0" width="3.5" height="2.4" fill="#254790"/>
<rect x="128.87" y="378.0" width="3.5" height="2.4" fill="#254790"/>
<rect x="135.2" y="379.0" width="3.5" height="1.4" fill="#254790"/>
<rect x="141.53" y="379.0" width="3.5" height="1.4" fill="#254790"/>
<rect x="147.86" y="379.0" width="3.5" height="1.4" fill="#254790"/>
<rect x="154.19" y="379.0" width="3.5" height="1.4" fill="#254790"/>
<rect x="160.51999999999998" y="379.0" width="3.5" height="1.4" fill="#254790"/>
<rect x="174.65" y="379.0" width="3.5" height="1.4" fill="#254790"/>
<rect x="181.0" y="379.0" width="3.5" height="1.4" fill="#254790"/>
<rect x="187.35" y="379.0" width="3.5" height="1.4" fill="#254790"/>
<rect x="193.7" y="379.0" width="3.5" height="1.4" fill="#254790"/>
<line x1="35.5" y1="335.0" x2="35.5" y2="380.79999999999995" stroke="#000" stroke-width="1.0"/>
<line x1="34.800000000000004" y1="380.5" x2="198.8" y2="380.5" stroke="#000" stroke-width="1.0"/>
<path d="M170.70000000000002,382.29999999999995 L172.9,378.5 L173.9,378.5 L171.70000000000002,382.29999999999995 Z" fill="#fff" stroke="none" stroke-width="1"/>
<line x1="170.70000000000002" y1="382.29999999999995" x2="172.9" y2="378.5" stroke="#000" stroke-width="0.8"/>
<line x1="173.10000000000002" y1="382.29999999999995" x2="175.3" y2="378.5" stroke="#000" stroke-width="0.8"/>
<line x1="32.6" y1="340.7" x2="35.2" y2="340.7" stroke="#000" stroke-width="0.8"/>
<text x="30.000000000000004" y="343.5" font-size="7.9" text-anchor="end" fill="#231f20" stroke="#231f20">30</text>
<line x1="32.6" y1="354.0" x2="35.2" y2="354.0" stroke="#000" stroke-width="0.8"/>
<text x="30.000000000000004" y="356.8" font-size="7.9" text-anchor="end" fill="#231f20" stroke="#231f20">20</text>
<line x1="32.6" y1="367.1" x2="35.2" y2="367.1" stroke="#000" stroke-width="0.8"/>
<text x="30.000000000000004" y="369.90000000000003" font-size="7.9" text-anchor="end" fill="#231f20" stroke="#231f20">10</text>
<line x1="32.6" y1="380.4" x2="35.2" y2="380.4" stroke="#000" stroke-width="0.8"/>
<text x="30.000000000000004" y="383.2" font-size="7.9" text-anchor="end" fill="#231f20" stroke="#231f20">0</text>
<line x1="42.0" y1="380.4" x2="42.0" y2="382.79999999999995" stroke="#000" stroke-width="0.8"/>
<text x="42.0" y="393.4" font-size="7.9" text-anchor="middle" fill="#231f20" stroke="#231f20">1</text>
<line x1="67.32" y1="380.4" x2="67.32" y2="382.79999999999995" stroke="#000" stroke-width="0.8"/>
<text x="67.32" y="393.4" font-size="7.9" text-anchor="middle" fill="#231f20" stroke="#231f20">5</text>
<line x1="98.97" y1="380.4" x2="98.97" y2="382.79999999999995" stroke="#000" stroke-width="0.8"/>
<text x="98.97" y="393.4" font-size="7.9" text-anchor="middle" fill="#231f20" stroke="#231f20">10</text>
<line x1="130.62" y1="380.4" x2="130.62" y2="382.79999999999995" stroke="#000" stroke-width="0.8"/>
<text x="130.62" y="393.4" font-size="7.9" text-anchor="middle" fill="#231f20" stroke="#231f20">15</text>
<line x1="162.26999999999998" y1="380.4" x2="162.26999999999998" y2="382.79999999999995" stroke="#000" stroke-width="0.8"/>
<text x="162.26999999999998" y="393.4" font-size="7.9" text-anchor="middle" fill="#231f20" stroke="#231f20">20</text>
<line x1="195.6" y1="380.4" x2="195.6" y2="382.79999999999995" stroke="#000" stroke-width="0.8"/>
<text x="195.6" y="393.4" font-size="7.9" text-anchor="middle" fill="#231f20" stroke="#231f20">29</text>
<path d="M52.86,363.86 L56.459999999999994,363.86 L54.66,366.96000000000004 Z" fill="#c83c62" stroke="none" stroke-width="1"/>
<path d="M71.85000000000001,367.85 L75.45,367.85 L73.65,370.95000000000005 Z" fill="#c83c62" stroke="none" stroke-width="1"/>
<path d="M78.18,367.85 L81.78,367.85 L79.98,370.95000000000005 Z" fill="#c83c62" stroke="none" stroke-width="1"/>
<text x="49.0" y="332.0" font-size="9.5" textLength="17.0" lengthAdjust="spacingAndGlyphs" fill="#3d5a98" stroke="#3d5a98">Pt. 3</text>
<text x="49.3" y="346.0" font-size="7.4" fill="#231f20" textLength="65" lengthAdjust="spacingAndGlyphs" stroke="#231f20">CD8<tspan font-size="5" dy="-2.6">+</tspan><tspan dy="2.6"> TCR clonotypes</tspan></text>
<text transform="translate(15.6,320.4) rotate(-90)" x="0" y="0" font-size="9.6" textLength="88.4" lengthAdjust="spacingAndGlyphs" text-anchor="middle" fill="#231f20" stroke="#231f20">Number of single cells</text>
<text x="78.8" y="405.0" font-size="9.6" textLength="76.3" lengthAdjust="spacingAndGlyphs" fill="#231f20" stroke="#231f20">Distinct clonotypes</text>
<text x="222.1" y="220.9" font-size="11.2" textLength="8.1" lengthAdjust="spacingAndGlyphs" fill="#231f20" stroke="#231f20">D</text>
<text x="243.6" y="242.6" font-size="9.5" textLength="16.4" lengthAdjust="spacingAndGlyphs" fill="#3d5a98" stroke="#3d5a98">Pt. 1</text>
<rect x="263.2" y="254.3" width="13.49" height="13.38" fill="#2e2ef6"/>
<rect x="276.64" y="254.3" width="13.49" height="13.38" fill="#ffffff"/>
<rect x="290.08" y="254.3" width="13.49" height="13.38" fill="#f8f8fe"/>
<rect x="303.52" y="254.3" width="13.49" height="13.38" fill="#ffffff"/>
<rect x="316.96" y="254.3" width="13.49" height="13.38" fill="#ffffff"/>
<rect x="330.4" y="254.3" width="13.49" height="13.38" fill="#ffffff"/>
<rect x="343.84" y="254.3" width="13.49" height="13.38" fill="#ffffff"/>
<rect x="263.2" y="267.63" width="13.49" height="13.38" fill="#2e2ef6"/>
<rect x="276.64" y="267.63" width="13.49" height="13.38" fill="#ffffff"/>
<rect x="290.08" y="267.63" width="13.49" height="13.38" fill="#ffffff"/>
<rect x="303.52" y="267.63" width="13.49" height="13.38" fill="#ffffff"/>
<rect x="316.96" y="267.63" width="13.49" height="13.38" fill="#ffffff"/>
<rect x="330.4" y="267.63" width="13.49" height="13.38" fill="#ffffff"/>
<rect x="343.84" y="267.63" width="13.49" height="13.38" fill="#ffffff"/>
<rect x="263.2" y="280.96000000000004" width="13.49" height="13.38" fill="#2e2ef6"/>
<rect x="276.64" y="280.96000000000004" width="13.49" height="13.38" fill="#fafafe"/>
<rect x="290.08" y="280.96000000000004" width="13.49" height="13.38" fill="#f6f6fd"/>
<rect x="303.52" y="280.96000000000004" width="13.49" height="13.38" fill="#ffffff"/>
<rect x="316.96" y="280.96000000000004" width="13.49" height="13.38" fill="#fafafe"/>
<rect x="330.4" y="280.96000000000004" width="13.49" height="13.38" fill="#ffffff"/>
<rect x="343.84" y="280.96000000000004" width="13.49" height="13.38" fill="#ffffff"/>
<rect x="263.2" y="294.29" width="13.49" height="13.38" fill="#2e2ef6"/>
<rect x="276.64" y="294.29" width="13.49" height="13.38" fill="#ffffff"/>
<rect x="290.08" y="294.29" width="13.49" height="13.38" fill="#ffffff"/>
<rect x="303.52" y="294.29" width="13.49" height="13.38" fill="#ffffff"/>
<rect x="316.96" y="294.29" width="13.49" height="13.38" fill="#ffffff"/>
<rect x="330.4" y="294.29" width="13.49" height="13.38" fill="#ffffff"/>
<rect x="343.84" y="294.29" width="13.49" height="13.38" fill="#ffffff"/>
<rect x="263.2" y="307.62" width="13.49" height="13.38" fill="#2e2ef6"/>
<rect x="276.64" y="307.62" width="13.49" height="13.38" fill="#ffffff"/>
<rect x="290.08" y="307.62" width="13.49" height="13.38" fill="#ffffff"/>
<rect x="303.52" y="307.62" width="13.49" height="13.38" fill="#ffffff"/>
<rect x="316.96" y="307.62" width="13.49" height="13.38" fill="#ffffff"/>
<rect x="330.4" y="307.62" width="13.49" height="13.38" fill="#ffffff"/>
<rect x="343.84" y="307.62" width="13.49" height="13.38" fill="#ffffff"/>
<rect x="263.2" y="320.95000000000005" width="13.49" height="13.38" fill="#2e2ef6"/>
<rect x="276.64" y="320.95000000000005" width="13.49" height="13.38" fill="#d8dbf8"/>
<rect x="290.08" y="320.95000000000005" width="13.49" height="13.38" fill="#ffffff"/>
<rect x="303.52" y="320.95000000000005" width="13.49" height="13.38" fill="#ffffff"/>
<rect x="316.96" y="320.95000000000005" width="13.49" height="13.38" fill="#dcdff8"/>
<rect x="330.4" y="320.95000000000005" width="13.49" height="13.38" fill="#ffffff"/>
<rect x="343.84" y="320.95000000000005" width="13.49" height="13.38" fill="#ffffff"/>
<line x1="276.5" y1="254.3" x2="276.5" y2="334.28000000000003" stroke="#a8a8a8" stroke-width="1.0"/>
<line x1="290.5" y1="254.3" x2="290.5" y2="334.28000000000003" stroke="#a8a8a8" stroke-width="1.0"/>
<line x1="303.5" y1="254.3" x2="303.5" y2="334.28000000000003" stroke="#a8a8a8" stroke-width="1.0"/>
<line x1="316.5" y1="254.3" x2="316.5" y2="334.28000000000003" stroke="#a8a8a8" stroke-width="1.0"/>
<line x1="330.5" y1="254.3" x2="330.5" y2="334.28000000000003" stroke="#a8a8a8" stroke-width="1.0"/>
<line x1="343.5" y1="254.3" x2="343.5" y2="334.28000000000003" stroke="#a8a8a8" stroke-width="1.0"/>
<line x1="263.2" y1="267.5" x2="357.28" y2="267.5" stroke="#a8a8a8" stroke-width="1.0"/>
<line x1="263.2" y1="280.5" x2="357.28" y2="280.5" stroke="#a8a8a8" stroke-width="1.0"/>
<line x1="263.2" y1="294.5" x2="357.28" y2="294.5" stroke="#a8a8a8" stroke-width="1.0"/>
<line x1="263.2" y1="307.5" x2="357.28" y2="307.5" stroke="#a8a8a8" stroke-width="1.0"/>
<line x1="263.2" y1="320.5" x2="357.28" y2="320.5" stroke="#a8a8a8" stroke-width="1.0"/>
<line x1="263.2" y1="267.5" x2="276.64" y2="267.5" stroke="#1a1ab4" stroke-width="1.0"/>
<line x1="263.2" y1="280.5" x2="276.64" y2="280.5" stroke="#1a1ab4" stroke-width="1.0"/>
<line x1="263.2" y1="294.5" x2="276.64" y2="294.5" stroke="#1a1ab4" stroke-width="1.0"/>
<line x1="263.2" y1="307.5" x2="276.64" y2="307.5" stroke="#1a1ab4" stroke-width="1.0"/>
<line x1="263.2" y1="320.5" x2="276.64" y2="320.5" stroke="#1a1ab4" stroke-width="1.0"/>
<rect x="263.2" y="254.3" width="94.08" height="79.98" fill="none" stroke="#111" stroke-width="0.9"/>
<text transform="translate(270.2,250.0) rotate(-45)" font-size="7.0" textLength="14" lengthAdjust="spacingAndGlyphs" fill="#231f20" stroke="#231f20">PMA</text>
<text transform="translate(283.64,250.0) rotate(-45)" font-size="7.0" textLength="13.5" lengthAdjust="spacingAndGlyphs" fill="#231f20" stroke="#231f20">Pool</text>
<text transform="translate(297.08,250.0) rotate(-45)" font-size="7.0" textLength="34" lengthAdjust="spacingAndGlyphs" fill="#231f20" stroke="#231f20">mut-CASPS</text>
<text transform="translate(310.52,250.0) rotate(-45)" font-size="7.0" textLength="38.5" lengthAdjust="spacingAndGlyphs" fill="#231f20" stroke="#231f20">mut-RUSC2-1</text>
<text transform="translate(323.96,250.0) rotate(-45)" font-size="7.0" textLength="38.5" lengthAdjust="spacingAndGlyphs" fill="#231f20" stroke="#231f20">mut-RUSC2-2</text>
<text transform="translate(337.4,250.0) rotate(-45)" font-size="7.0" textLength="38.5" lengthAdjust="spacingAndGlyphs" fill="#231f20" stroke="#231f20">mut-RUSC2-3</text>
<text transform="translate(350.84,250.0) rotate(-45)" font-size="7.0" textLength="38.5" lengthAdjust="spacingAndGlyphs" fill="#231f20" stroke="#231f20">mut-RUSC2-4</text>
<text x="259.4" y="263.56500000000005" font-size="7.4" textLength="13.6" lengthAdjust="spacingAndGlyphs" text-anchor="end" fill="#231f20" stroke="#231f20">P1.1</text>
<text x="259.4" y="276.89500000000004" font-size="7.4" textLength="13.6" lengthAdjust="spacingAndGlyphs" text-anchor="end" fill="#231f20" stroke="#231f20">P1.2</text>
<text x="259.4" y="290.2250000000001" font-size="7.4" textLength="13.6" lengthAdjust="spacingAndGlyphs" text-anchor="end" fill="#231f20" stroke="#231f20">P1.3</text>
<text x="259.4" y="303.55500000000006" font-size="7.4" textLength="13.6" lengthAdjust="spacingAndGlyphs" text-anchor="end" fill="#231f20" stroke="#231f20">P1.4</text>
<text x="259.4" y="316.88500000000005" font-size="7.4" textLength="13.6" lengthAdjust="spacingAndGlyphs" text-anchor="end" fill="#231f20" stroke="#231f20">P1.5</text>
<text x="259.4" y="330.2150000000001" font-size="7.4" textLength="13.6" lengthAdjust="spacingAndGlyphs" text-anchor="end" fill="#231f20" stroke="#231f20">P1.6</text>
<text transform="translate(238.3,294.2) rotate(-90)" x="0" y="0" font-size="9.2" text-anchor="middle" fill="#231f20" textLength="42.4" lengthAdjust="spacingAndGlyphs" stroke="#231f20">CD4<tspan font-size="6" dy="-3.2">+</tspan><tspan dy="3.2"> TCRs</tspan></text>
<text x="263.7" y="344.7" font-size="7.4" fill="#231f20" stroke="#231f20">0</text>
<rect x="271.0" y="340.6" width="24.2" height="3.2" fill="url(#gsc)" stroke="#9a9ad0" stroke-width="0.3"/>
<text x="297.0" y="344.7" font-size="7.4" textLength="13.4" lengthAdjust="spacingAndGlyphs" fill="#231f20" stroke="#231f20">600</text>
<text x="259.7" y="364.3" font-size="8.8" textLength="45.7" lengthAdjust="spacingAndGlyphs" fill="#231f20" stroke="#231f20">IL-2 (pg/ml)</text>
<rect x="364.8" y="256.06500000000005" width="30.0" height="9.8" fill="#c8c8ca"/>
<rect x="364.8" y="269.39500000000004" width="20.69999999999999" height="9.8" fill="#c8c8ca"/>
<rect x="364.8" y="282.7250000000001" width="20.69999999999999" height="9.8" fill="#c8c8ca"/>
<rect x="364.8" y="296.05500000000006" width="20.69999999999999" height="9.8" fill="#c8c8ca"/>
<rect x="364.8" y="309.38500000000005" width="20.69999999999999" height="9.8" fill="#c8c8ca"/>
<rect x="364.8" y="322.7150000000001" width="20.69999999999999" height="9.8" fill="#c8c8ca"/>
<line x1="364.5" y1="253.9" x2="364.5" y2="337.8" stroke="#000" stroke-width="1.0"/>
<line x1="364.40000000000003" y1="337.5" x2="399.6" y2="337.5" stroke="#000" stroke-width="1.0"/>
<line x1="362.0" y1="260.96500000000003" x2="364.8" y2="260.96500000000003" stroke="#000" stroke-width="0.8"/>
<line x1="362.0" y1="274.295" x2="364.8" y2="274.295" stroke="#000" stroke-width="0.8"/>
<line x1="362.0" y1="287.62500000000006" x2="364.8" y2="287.62500000000006" stroke="#000" stroke-width="0.8"/>
<line x1="362.0" y1="300.95500000000004" x2="364.8" y2="300.95500000000004" stroke="#000" stroke-width="0.8"/>
<line x1="362.0" y1="314.285" x2="364.8" y2="314.285" stroke="#000" stroke-width="0.8"/>
<line x1="362.0" y1="327.61500000000007" x2="364.8" y2="327.61500000000007" stroke="#000" stroke-width="0.8"/>
<line x1="364.8" y1="337.8" x2="364.8" y2="340.40000000000003" stroke="#000" stroke-width="0.8"/>
<text x="364.8" y="350.40000000000003" font-size="7.6" text-anchor="middle" fill="#231f20" stroke="#231f20">0</text>
<line x1="375.6" y1="337.8" x2="375.6" y2="340.40000000000003" stroke="#000" stroke-width="0.8"/>
<text x="375.6" y="350.40000000000003" font-size="7.6" text-anchor="middle" fill="#231f20" stroke="#231f20">1</text>
<line x1="386.4" y1="337.8" x2="386.4" y2="340.40000000000003" stroke="#000" stroke-width="0.8"/>
<text x="386.4" y="350.40000000000003" font-size="7.6" text-anchor="middle" fill="#231f20" stroke="#231f20">2</text>
<line x1="397.2" y1="337.8" x2="397.2" y2="340.40000000000003" stroke="#000" stroke-width="0.8"/>
<text x="397.2" y="350.40000000000003" font-size="7.6" text-anchor="middle" fill="#231f20" stroke="#231f20">3</text>
<text x="332.0" y="364.3" font-size="8.8" textLength="97" lengthAdjust="spacingAndGlyphs" fill="#231f20" stroke="#231f20">% of pool reactive T cells</text>
<text x="437.6" y="260.6" font-size="9.6" textLength="16.6" lengthAdjust="spacingAndGlyphs" fill="#3d5a98" stroke="#3d5a98">P1.6</text>
<line x1="436.5" y1="268.8" x2="436.5" y2="324.25" stroke="#000" stroke-width="1.0"/>
<line x1="436.15000000000003" y1="323.5" x2="512.7" y2="323.5" stroke="#000" stroke-width="1.0"/>
<line x1="434.0" y1="270.6" x2="436.6" y2="270.6" stroke="#000" stroke-width="0.8"/>
<line x1="434.0" y1="288.5" x2="436.6" y2="288.5" stroke="#000" stroke-width="0.8"/>
<line x1="434.0" y1="306.3" x2="436.6" y2="306.3" stroke="#000" stroke-width="0.8"/>
<line x1="434.0" y1="323.8" x2="436.6" y2="323.8" stroke="#000" stroke-width="0.8"/>
<text x="432.0" y="273.3" font-size="7.6" text-anchor="end" fill="#231f20" stroke="#231f20">150</text>
<text x="432.0" y="291.2" font-size="7.6" text-anchor="end" fill="#231f20" stroke="#231f20">100</text>
<text x="432.0" y="309.0" font-size="7.6" text-anchor="end" fill="#231f20" stroke="#231f20">50</text>
<text x="432.0" y="326.5" font-size="7.6" text-anchor="end" fill="#231f20" stroke="#231f20">0</text>
<line x1="446.6" y1="323.8" x2="446.6" y2="326.40000000000003" stroke="#000" stroke-width="0.8"/>
<line x1="456.40000000000003" y1="323.8" x2="456.40000000000003" y2="326.40000000000003" stroke="#000" stroke-width="0.8"/>
<line x1="466.20000000000005" y1="323.8" x2="466.20000000000005" y2="326.40000000000003" stroke="#000" stroke-width="0.8"/>
<line x1="476.0" y1="323.8" x2="476.0" y2="326.40000000000003" stroke="#000" stroke-width="0.8"/>
<line x1="485.8" y1="323.8" x2="485.8" y2="326.40000000000003" stroke="#000" stroke-width="0.8"/>
<line x1="495.6" y1="323.8" x2="495.6" y2="326.40000000000003" stroke="#000" stroke-width="0.8"/>
<line x1="505.40000000000003" y1="323.8" x2="505.40000000000003" y2="326.40000000000003" stroke="#000" stroke-width="0.8"/>
<text x="445.40000000000003" y="337.8" font-size="7.6" text-anchor="middle" fill="#231f20" stroke="#231f20">10<tspan font-size="5.6" dy="-3">1</tspan></text>
<text x="465.00000000000006" y="337.8" font-size="7.6" text-anchor="middle" fill="#231f20" stroke="#231f20">10<tspan font-size="5.6" dy="-3">3</tspan></text>
<text x="484.6" y="337.8" font-size="7.6" text-anchor="middle" fill="#231f20" stroke="#231f20">10<tspan font-size="5.6" dy="-3">5</tspan></text>
<text x="504.20000000000005" y="337.8" font-size="7.6" text-anchor="middle" fill="#231f20" stroke="#231f20">10<tspan font-size="5.6" dy="-3">7</tspan></text>
<path d="M446.60,318.60 L456.40,317.30 L466.20,318.70 L476.00,319.90 L485.80,322.10 L495.60,323.20 L505.40,322.90" fill="none" stroke="#24478c" stroke-width="1.0" stroke-linejoin="round"/>
<circle cx="446.60" cy="318.60" r="1.3" fill="#24478c"/>
<circle cx="456.40" cy="317.30" r="1.3" fill="#24478c"/>
<circle cx="466.20" cy="318.70" r="1.3" fill="#24478c"/>
<circle cx="476.00" cy="319.90" r="1.3" fill="#24478c"/>
<circle cx="485.80" cy="322.10" r="1.3" fill="#24478c"/>
<circle cx="495.60" cy="323.20" r="1.3" fill="#24478c"/>
<circle cx="505.40" cy="322.90" r="1.3" fill="#24478c"/>
<line x1="446.6" y1="316.6" x2="446.6" y2="320.6" stroke="#24478c" stroke-width="0.8"/>
<line x1="445.3" y1="316.6" x2="447.90000000000003" y2="316.6" stroke="#24478c" stroke-width="0.8"/>
<line x1="445.3" y1="320.6" x2="447.90000000000003" y2="320.6" stroke="#24478c" stroke-width="0.8"/>
<line x1="456.40000000000003" y1="315.1" x2="456.40000000000003" y2="319.5" stroke="#24478c" stroke-width="0.8"/>
<line x1="455.1" y1="315.1" x2="457.70000000000005" y2="315.1" stroke="#24478c" stroke-width="0.8"/>
<line x1="455.1" y1="319.5" x2="457.70000000000005" y2="319.5" stroke="#24478c" stroke-width="0.8"/>
<line x1="466.20000000000005" y1="316.7" x2="466.20000000000005" y2="320.7" stroke="#24478c" stroke-width="0.8"/>
<line x1="464.90000000000003" y1="316.7" x2="467.50000000000006" y2="316.7" stroke="#24478c" stroke-width="0.8"/>
<line x1="464.90000000000003" y1="320.7" x2="467.50000000000006" y2="320.7" stroke="#24478c" stroke-width="0.8"/>
<line x1="476.0" y1="318.09999999999997" x2="476.0" y2="321.7" stroke="#24478c" stroke-width="0.8"/>
<line x1="474.7" y1="318.09999999999997" x2="477.3" y2="318.09999999999997" stroke="#24478c" stroke-width="0.8"/>
<line x1="474.7" y1="321.7" x2="477.3" y2="321.7" stroke="#24478c" stroke-width="0.8"/>
<path d="M446.60,323.60 L456.40,322.20 L466.20,320.80 L476.00,321.50 L485.80,322.80 L495.60,321.20 L505.40,307.30" fill="none" stroke="#b8133c" stroke-width="1.0" stroke-linejoin="round"/>
<circle cx="446.60" cy="323.60" r="1.3" fill="#b8133c"/>
<circle cx="456.40" cy="322.20" r="1.3" fill="#b8133c"/>
<circle cx="466.20" cy="320.80" r="1.3" fill="#b8133c"/>
<circle cx="476.00" cy="321.50" r="1.3" fill="#b8133c"/>
<circle cx="485.80" cy="322.80" r="1.3" fill="#b8133c"/>
<circle cx="495.60" cy="321.20" r="1.3" fill="#b8133c"/>
<circle cx="505.40" cy="307.30" r="1.3" fill="#b8133c"/>
<line x1="505.40000000000003" y1="305.1" x2="505.40000000000003" y2="309.5" stroke="#b8133c" stroke-width="0.8"/>
<line x1="504.1" y1="305.1" x2="506.70000000000005" y2="305.1" stroke="#b8133c" stroke-width="0.8"/>
<line x1="504.1" y1="309.5" x2="506.70000000000005" y2="309.5" stroke="#b8133c" stroke-width="0.8"/>
<line x1="456.40000000000003" y1="321.0" x2="456.40000000000003" y2="323.4" stroke="#b8133c" stroke-width="0.8"/>
<line x1="455.1" y1="321.0" x2="457.70000000000005" y2="321.0" stroke="#b8133c" stroke-width="0.8"/>
<line x1="455.1" y1="323.4" x2="457.70000000000005" y2="323.4" stroke="#b8133c" stroke-width="0.8"/>
<line x1="466.20000000000005" y1="319.6" x2="466.20000000000005" y2="322.0" stroke="#b8133c" stroke-width="0.8"/>
<line x1="464.90000000000003" y1="319.6" x2="467.50000000000006" y2="319.6" stroke="#b8133c" stroke-width="0.8"/>
<line x1="464.90000000000003" y1="322.0" x2="467.50000000000006" y2="322.0" stroke="#b8133c" stroke-width="0.8"/>
<text transform="translate(412.7,297.4) rotate(-90)" x="0" y="0" font-size="9.0" textLength="46.3" lengthAdjust="spacingAndGlyphs" text-anchor="middle" fill="#231f20" stroke="#231f20">IL-2 (pg/ml)</text>
<line x1="445.6" y1="271.4" x2="452.6" y2="271.4" stroke="#b8133c" stroke-width="0.9"/>
<circle cx="449.1" cy="271.4" r="1.2" fill="#b8133c"/>
<text x="455.4" y="274.8" font-size="7.8" textLength="12.6" lengthAdjust="spacingAndGlyphs" fill="#b8133c" stroke="#b8133c">Mut</text>
<line x1="445.6" y1="283.8" x2="452.6" y2="283.8" stroke="#24478c" stroke-width="0.9"/>
<circle cx="449.1" cy="283.8" r="1.2" fill="#24478c"/>
<text x="455.4" y="286.6" font-size="7.8" textLength="10.6" lengthAdjust="spacingAndGlyphs" fill="#24478c" stroke="#24478c">WT</text>
<text x="478.5" y="290.4" font-size="7.4" textLength="28.8" lengthAdjust="spacingAndGlyphs" fill="#231f20" stroke="#231f20">P=0.0003</text>
<line x1="505.4" y1="294.4" x2="505.4" y2="298.5" stroke="#000" stroke-width="0.95"/>
<path d="M503.4,298.0 L507.4,298.0 L505.4,301.8 Z" fill="#000" stroke="none" stroke-width="1"/>
<text x="446.4" y="350.0" font-size="9.4" textLength="62.3" lengthAdjust="spacingAndGlyphs" fill="#231f20" stroke="#231f20">Peptide (pg/ml)</text>
<text x="276.9" y="384.2" font-size="7.6" textLength="11.6" lengthAdjust="spacingAndGlyphs" fill="#231f20" stroke="#231f20">IMP</text>
<path d="M295.3,376.6 L292.3,376.6 L292.3,387.3 L295.3,387.3" fill="none" stroke="#000" stroke-width="0.9"/>
<rect x="361.9" y="377.8" width="3.2" height="6.6" fill="#b9c5f0"/>
<rect x="361.9" y="393.3" width="3.2" height="6.6" fill="#b9c5f0"/>
<rect x="361.9" y="402.6" width="3.2" height="6.6" fill="#b9c5f0"/>
<rect x="361.9" y="414.0" width="3.2" height="6.6" fill="#b9c5f0"/>
<rect x="361.9" y="423.3" width="3.2" height="6.6" fill="#b9c5f0"/>
<text x="302.0" y="384.2" font-size="7.6" textLength="115.5" lengthAdjust="spacingAndGlyphs" fill="#231f20" stroke="#231f20">SGSPPLRVSVGDFSQEFSPIQEAQQD</text>
<text x="245.8" y="399.7" font-size="7.6" textLength="46.1" lengthAdjust="spacingAndGlyphs" fill="#231f20" stroke="#231f20">mut-RUSC2-1:</text>
<text x="302.0" y="399.7" font-size="7.6" textLength="66.8" lengthAdjust="spacingAndGlyphs" fill="#231f20" stroke="#231f20">SGSPPLRVSVGDFSQ</text>
<text x="245.8" y="409.0" font-size="7.6" textLength="46.1" lengthAdjust="spacingAndGlyphs" fill="#231f20" stroke="#231f20">mut-RUSC2-2:</text>
<text x="322.0" y="409.0" font-size="7.6" textLength="65.0" lengthAdjust="spacingAndGlyphs" fill="#231f20" stroke="#231f20">PLRVSVGDFSQEFSP</text>
<text x="245.8" y="420.4" font-size="7.6" textLength="46.1" lengthAdjust="spacingAndGlyphs" fill="#231f20" stroke="#231f20">mut-RUSC2-3:</text>
<text x="340.8" y="420.4" font-size="7.6" textLength="64.2" lengthAdjust="spacingAndGlyphs" fill="#231f20" stroke="#231f20">SVGDFSQEFSPIQEA</text>
<text x="245.8" y="429.7" font-size="7.6" textLength="46.1" lengthAdjust="spacingAndGlyphs" fill="#231f20" stroke="#231f20">mut-RUSC2-4:</text>
<text x="355.8" y="429.7" font-size="7.6" textLength="61.7" lengthAdjust="spacingAndGlyphs" fill="#231f20" stroke="#231f20">DFSQEFSPIQEAQQD</text>
<text x="7.3" y="449.6" font-size="11.2" textLength="6.4" lengthAdjust="spacingAndGlyphs" fill="#231f20" stroke="#231f20">E</text>
<text x="26.9" y="485.3" font-size="9.5" textLength="16.4" lengthAdjust="spacingAndGlyphs" fill="#3d5a98" stroke="#3d5a98">Pt. 3</text>
<rect x="46.2" y="495.4" width="11.48" height="11.34" fill="#2323f0"/>
<rect x="57.63" y="495.4" width="11.48" height="11.34" fill="#efeffc"/>
<rect x="69.06" y="495.4" width="11.48" height="11.34" fill="#f0f0fc"/>
<rect x="80.49000000000001" y="495.4" width="11.48" height="11.34" fill="#f4f4fd"/>
<rect x="46.2" y="506.69" width="11.48" height="11.34" fill="#8484f2"/>
<rect x="57.63" y="506.69" width="11.48" height="11.34" fill="#f2f2fc"/>
<rect x="69.06" y="506.69" width="11.48" height="11.34" fill="#ffffff"/>
<rect x="80.49000000000001" y="506.69" width="11.48" height="11.34" fill="#ffffff"/>
<rect x="46.2" y="517.98" width="11.48" height="11.34" fill="#9292f3"/>
<rect x="57.63" y="517.98" width="11.48" height="11.34" fill="#f1f1fc"/>
<rect x="69.06" y="517.98" width="11.48" height="11.34" fill="#8c8cf1"/>
<rect x="80.49000000000001" y="517.98" width="11.48" height="11.34" fill="#f6f6fd"/>
<rect x="46.2" y="529.27" width="11.48" height="11.34" fill="#0e0eee"/>
<rect x="57.63" y="529.27" width="11.48" height="11.34" fill="#f0f0fc"/>
<rect x="69.06" y="529.27" width="11.48" height="11.34" fill="#ebebfb"/>
<rect x="80.49000000000001" y="529.27" width="11.48" height="11.34" fill="#f6f6fd"/>
<rect x="46.2" y="540.56" width="11.48" height="11.34" fill="#0a0aec"/>
<rect x="57.63" y="540.56" width="11.48" height="11.34" fill="#dcdcf8"/>
<rect x="69.06" y="540.56" width="11.48" height="11.34" fill="#f0f0fc"/>
<rect x="80.49000000000001" y="540.56" width="11.48" height="11.34" fill="#e6e6f9"/>
<rect x="46.2" y="551.85" width="11.48" height="11.34" fill="#4444ee"/>
<rect x="57.63" y="551.85" width="11.48" height="11.34" fill="#f4f4fd"/>
<rect x="69.06" y="551.85" width="11.48" height="11.34" fill="#2a2af0"/>
<rect x="80.49000000000001" y="551.85" width="11.48" height="11.34" fill="#f0f0fc"/>
<rect x="46.2" y="563.14" width="11.48" height="11.34" fill="#5454ee"/>
<rect x="57.63" y="563.14" width="11.48" height="11.34" fill="#ffffff"/>
<rect x="69.06" y="563.14" width="11.48" height="11.34" fill="#6060ee"/>
<rect x="80.49000000000001" y="563.14" width="11.48" height="11.34" fill="#f4f4fd"/>
<line x1="57.5" y1="495.4" x2="57.5" y2="574.43" stroke="#a8a8a8" stroke-width="1.0"/>
<line x1="69.5" y1="495.4" x2="69.5" y2="574.43" stroke="#a8a8a8" stroke-width="1.0"/>
<line x1="80.5" y1="495.4" x2="80.5" y2="574.43" stroke="#a8a8a8" stroke-width="1.0"/>
<line x1="46.2" y1="506.5" x2="91.92" y2="506.5" stroke="#a8a8a8" stroke-width="1.0"/>
<line x1="46.2" y1="517.5" x2="91.92" y2="517.5" stroke="#a8a8a8" stroke-width="1.0"/>
<line x1="46.2" y1="529.5" x2="91.92" y2="529.5" stroke="#a8a8a8" stroke-width="1.0"/>
<line x1="46.2" y1="540.5" x2="91.92" y2="540.5" stroke="#a8a8a8" stroke-width="1.0"/>
<line x1="46.2" y1="551.5" x2="91.92" y2="551.5" stroke="#a8a8a8" stroke-width="1.0"/>
<line x1="46.2" y1="563.5" x2="91.92" y2="563.5" stroke="#a8a8a8" stroke-width="1.0"/>
<line x1="46.2" y1="506.5" x2="57.63" y2="506.5" stroke="#1c1c8c" stroke-width="1.0"/>
<line x1="46.2" y1="517.5" x2="57.63" y2="517.5" stroke="#1c1c8c" stroke-width="1.0"/>
<line x1="46.2" y1="529.5" x2="57.63" y2="529.5" stroke="#1c1c8c" stroke-width="1.0"/>
<line x1="46.2" y1="540.5" x2="57.63" y2="540.5" stroke="#1c1c8c" stroke-width="1.0"/>
<line x1="46.2" y1="551.5" x2="57.63" y2="551.5" stroke="#1c1c8c" stroke-width="1.0"/>
<line x1="46.2" y1="563.5" x2="57.63" y2="563.5" stroke="#1c1c8c" stroke-width="1.0"/>
<rect x="46.2" y="495.4" width="45.72" height="79.03" fill="none" stroke="#111" stroke-width="0.9"/>
<text transform="translate(51.2,490.3) rotate(-45)" font-size="7.0" textLength="14" lengthAdjust="spacingAndGlyphs" fill="#231f20" stroke="#231f20">PMA</text>
<text transform="translate(62.63,490.3) rotate(-45)" font-size="7.0" textLength="24" lengthAdjust="spacingAndGlyphs" fill="#231f20" stroke="#231f20">mut-CIT</text>
<text transform="translate(74.06,490.3) rotate(-45)" font-size="7.0" textLength="34" lengthAdjust="spacingAndGlyphs" fill="#231f20" stroke="#231f20">mut-VPS16</text>
<text transform="translate(85.49000000000001,490.3) rotate(-45)" font-size="7.0" textLength="34" lengthAdjust="spacingAndGlyphs" fill="#231f20" stroke="#231f20">mut-CASP1</text>
<text x="42.0" y="503.645" font-size="7.4" textLength="13.6" lengthAdjust="spacingAndGlyphs" text-anchor="end" fill="#231f20" stroke="#231f20">P3.1</text>
<text x="42.0" y="514.9350000000001" font-size="7.4" textLength="13.6" lengthAdjust="spacingAndGlyphs" text-anchor="end" fill="#231f20" stroke="#231f20">P3.2</text>
<text x="42.0" y="526.225" font-size="7.4" textLength="13.6" lengthAdjust="spacingAndGlyphs" text-anchor="end" fill="#231f20" stroke="#231f20">P3.3</text>
<text x="42.0" y="537.515" font-size="7.4" textLength="13.6" lengthAdjust="spacingAndGlyphs" text-anchor="end" fill="#231f20" stroke="#231f20">P3.4</text>
<text x="42.0" y="548.805" font-size="7.4" textLength="13.6" lengthAdjust="spacingAndGlyphs" text-anchor="end" fill="#231f20" stroke="#231f20">P3.5</text>
<text x="42.0" y="560.095" font-size="7.4" textLength="13.6" lengthAdjust="spacingAndGlyphs" text-anchor="end" fill="#231f20" stroke="#231f20">P3.6</text>
<text x="42.0" y="571.385" font-size="7.4" textLength="13.6" lengthAdjust="spacingAndGlyphs" text-anchor="end" fill="#231f20" stroke="#231f20">P3.7</text>
<text transform="translate(22.0,533.9) rotate(-90)" x="0" y="0" font-size="9.4" text-anchor="middle" fill="#231f20" textLength="41.6" lengthAdjust="spacingAndGlyphs" stroke="#231f20">CD8<tspan font-size="6" dy="-3.2">+</tspan><tspan dy="3.2"> TCRs</tspan></text>
<text x="43.8" y="585.1" font-size="7.4" fill="#231f20" stroke="#231f20">0</text>
<rect x="51.0" y="580.8" width="24.0" height="3.2" fill="url(#gsc)" stroke="#9a9ad0" stroke-width="0.3"/>
<text x="77.9" y="585.1" font-size="7.4" textLength="12.3" lengthAdjust="spacingAndGlyphs" fill="#231f20" stroke="#231f20">600</text>
<text x="43.8" y="597.2" font-size="7.4" textLength="37.9" lengthAdjust="spacingAndGlyphs" fill="#231f20" stroke="#231f20">IL-2 (pg/ml)</text>
<rect x="113.9" y="495.4" width="26.0" height="9.6" fill="#c8c8ca"/>
<rect x="113.9" y="506.7" width="16.400000000000006" height="9.6" fill="#c8c8ca"/>
<rect x="113.9" y="518.0" width="7.099999999999994" height="9.6" fill="#c8c8ca"/>
<rect x="113.9" y="529.3000000000001" width="6.299999999999997" height="9.6" fill="#c8c8ca"/>
<rect x="113.9" y="540.6" width="5.0" height="9.6" fill="#c8c8ca"/>
<rect x="113.9" y="551.9000000000001" width="4.099999999999994" height="9.6" fill="#c8c8ca"/>
<rect x="113.9" y="563.2" width="4.099999999999994" height="9.6" fill="#c8c8ca"/>
<line x1="113.5" y1="492.8" x2="113.5" y2="580.2" stroke="#000" stroke-width="1.0"/>
<line x1="113.5" y1="579.5" x2="146.8" y2="579.5" stroke="#000" stroke-width="1.0"/>
<line x1="111.1" y1="500.2" x2="113.9" y2="500.2" stroke="#000" stroke-width="0.8"/>
<line x1="111.1" y1="511.5" x2="113.9" y2="511.5" stroke="#000" stroke-width="0.8"/>
<line x1="111.1" y1="522.8" x2="113.9" y2="522.8" stroke="#000" stroke-width="0.8"/>
<line x1="111.1" y1="534.1" x2="113.9" y2="534.1" stroke="#000" stroke-width="0.8"/>
<line x1="111.1" y1="545.4" x2="113.9" y2="545.4" stroke="#000" stroke-width="0.8"/>
<line x1="111.1" y1="556.7" x2="113.9" y2="556.7" stroke="#000" stroke-width="0.8"/>
<line x1="111.1" y1="568.0" x2="113.9" y2="568.0" stroke="#000" stroke-width="0.8"/>
<line x1="113.9" y1="579.8" x2="113.9" y2="582.4" stroke="#000" stroke-width="0.8"/>
<text x="113.9" y="593.4" font-size="7.6" text-anchor="middle" fill="#231f20" stroke="#231f20">0</text>
<line x1="123.9" y1="579.8" x2="123.9" y2="582.4" stroke="#000" stroke-width="0.8"/>
<text x="123.9" y="593.4" font-size="7.6" text-anchor="middle" fill="#231f20" stroke="#231f20">10</text>
<line x1="134.4" y1="579.8" x2="134.4" y2="582.4" stroke="#000" stroke-width="0.8"/>
<text x="134.4" y="593.4" font-size="7.6" text-anchor="middle" fill="#231f20" stroke="#231f20">20</text>
<line x1="144.6" y1="579.8" x2="144.6" y2="582.4" stroke="#000" stroke-width="0.8"/>
<text x="144.6" y="593.4" font-size="7.6" text-anchor="middle" fill="#231f20" stroke="#231f20">30</text>
<text x="80.6" y="606.8" font-size="8.8" textLength="97" lengthAdjust="spacingAndGlyphs" fill="#231f20" stroke="#231f20">% of pool reactive T cells</text>
<text x="20.9" y="623.0" font-size="7.6" textLength="11.4" lengthAdjust="spacingAndGlyphs" fill="#231f20" stroke="#231f20">IMP</text>
<path d="M37.8,615.4 L34.8,615.4 L34.8,626.4 L37.8,626.4" fill="none" stroke="#000" stroke-width="0.9"/>
<rect x="131.0" y="616.6" width="3.4" height="7.0" fill="#b9c5f0"/>
<rect x="131.0" y="632.1" width="3.4" height="7.0" fill="#b9c5f0"/>
<text x="43.0" y="622.9" font-size="7.6" textLength="115.2" lengthAdjust="spacingAndGlyphs" fill="#231f20" stroke="#231f20">GHEHQPDMQKSLLRAAFFGKCFLDR</text>
<text x="20.0" y="638.2" font-size="7.6" textLength="38.5" lengthAdjust="spacingAndGlyphs" fill="#231f20" stroke="#231f20">mut-VPS16:</text>
<text x="110.6" y="638.4" font-size="7.6" textLength="42.9" lengthAdjust="spacingAndGlyphs" fill="#231f20" stroke="#231f20">LRAAFFGKCF</text>
<text x="212.0" y="465.0" font-size="9.6" textLength="16.6" lengthAdjust="spacingAndGlyphs" fill="#3d5a98" stroke="#3d5a98">P3.3</text>
<line x1="208.5" y1="468.4" x2="208.5" y2="540.75" stroke="#000" stroke-width="1.0"/>
<line x1="208.45000000000002" y1="540.5" x2="277.6" y2="540.5" stroke="#000" stroke-width="1.0"/>
<line x1="206.3" y1="470.5" x2="208.9" y2="470.5" stroke="#000" stroke-width="0.8"/>
<line x1="206.3" y1="494.1" x2="208.9" y2="494.1" stroke="#000" stroke-width="0.8"/>
<line x1="206.3" y1="517.5" x2="208.9" y2="517.5" stroke="#000" stroke-width="0.8"/>
<line x1="206.3" y1="540.3" x2="208.9" y2="540.3" stroke="#000" stroke-width="0.8"/>
<text x="204.3" y="473.2" font-size="7.6" text-anchor="end" fill="#231f20" stroke="#231f20">600</text>
<text x="204.3" y="496.8" font-size="7.6" text-anchor="end" fill="#231f20" stroke="#231f20">400</text>
<text x="204.3" y="520.2" font-size="7.6" text-anchor="end" fill="#231f20" stroke="#231f20">200</text>
<text x="204.3" y="543.0" font-size="7.6" text-anchor="end" fill="#231f20" stroke="#231f20">0</text>
<line x1="222.0" y1="540.3" x2="222.0" y2="542.9" stroke="#000" stroke-width="0.8"/>
<line x1="230.32" y1="540.3" x2="230.32" y2="542.9" stroke="#000" stroke-width="0.8"/>
<line x1="238.64" y1="540.3" x2="238.64" y2="542.9" stroke="#000" stroke-width="0.8"/>
<line x1="246.96" y1="540.3" x2="246.96" y2="542.9" stroke="#000" stroke-width="0.8"/>
<line x1="255.28" y1="540.3" x2="255.28" y2="542.9" stroke="#000" stroke-width="0.8"/>
<line x1="263.6" y1="540.3" x2="263.6" y2="542.9" stroke="#000" stroke-width="0.8"/>
<line x1="271.92" y1="540.3" x2="271.92" y2="542.9" stroke="#000" stroke-width="0.8"/>
<text x="220.8" y="554.3" font-size="7.6" text-anchor="middle" fill="#231f20" stroke="#231f20">10<tspan font-size="5.6" dy="-3">1</tspan></text>
<text x="237.44" y="554.3" font-size="7.6" text-anchor="middle" fill="#231f20" stroke="#231f20">10<tspan font-size="5.6" dy="-3">3</tspan></text>
<text x="254.08" y="554.3" font-size="7.6" text-anchor="middle" fill="#231f20" stroke="#231f20">10<tspan font-size="5.6" dy="-3">5</tspan></text>
<text x="270.72" y="554.3" font-size="7.6" text-anchor="middle" fill="#231f20" stroke="#231f20">10<tspan font-size="5.6" dy="-3">7</tspan></text>
<path d="M255.28,540.30 L263.60,540.30 L271.92,529.40" fill="none" stroke="#24478c" stroke-width="1.0" stroke-linejoin="round"/>
<circle cx="255.28" cy="540.30" r="1.3" fill="#24478c"/>
<circle cx="263.60" cy="540.30" r="1.3" fill="#24478c"/>
<circle cx="271.92" cy="529.40" r="1.3" fill="#24478c"/>
<line x1="271.92" y1="528.1999999999999" x2="271.92" y2="530.6" stroke="#24478c" stroke-width="0.8"/>
<line x1="270.62" y1="528.1999999999999" x2="273.22" y2="528.1999999999999" stroke="#24478c" stroke-width="0.8"/>
<line x1="270.62" y1="530.6" x2="273.22" y2="530.6" stroke="#24478c" stroke-width="0.8"/>
<path d="M222.00,540.30 L230.32,540.30 L238.64,540.30 L246.96,540.30 L255.28,540.30 L263.60,521.90 L271.92,495.10" fill="none" stroke="#b8133c" stroke-width="1.0" stroke-linejoin="round"/>
<circle cx="222.00" cy="540.30" r="1.3" fill="#b8133c"/>
<circle cx="230.32" cy="540.30" r="1.3" fill="#b8133c"/>
<circle cx="238.64" cy="540.30" r="1.3" fill="#b8133c"/>
<circle cx="246.96" cy="540.30" r="1.3" fill="#b8133c"/>
<circle cx="255.28" cy="540.30" r="1.3" fill="#b8133c"/>
<circle cx="263.60" cy="521.90" r="1.3" fill="#b8133c"/>
<circle cx="271.92" cy="495.10" r="1.3" fill="#b8133c"/>
<line x1="263.6" y1="519.3" x2="263.6" y2="524.5" stroke="#b8133c" stroke-width="0.8"/>
<line x1="262.3" y1="519.3" x2="264.90000000000003" y2="519.3" stroke="#b8133c" stroke-width="0.8"/>
<line x1="262.3" y1="524.5" x2="264.90000000000003" y2="524.5" stroke="#b8133c" stroke-width="0.8"/>
<line x1="271.92" y1="493.70000000000005" x2="271.92" y2="496.5" stroke="#b8133c" stroke-width="0.8"/>
<line x1="270.62" y1="493.70000000000005" x2="273.22" y2="493.70000000000005" stroke="#b8133c" stroke-width="0.8"/>
<line x1="270.62" y1="496.5" x2="273.22" y2="496.5" stroke="#b8133c" stroke-width="0.8"/>
<text x="236.8" y="503.9" font-size="7.4" textLength="29.2" lengthAdjust="spacingAndGlyphs" fill="#231f20" stroke="#231f20">P=0.0015</text>
<line x1="263.3" y1="505.4" x2="263.3" y2="509.7" stroke="#000" stroke-width="0.95"/>
<path d="M261.3,509.2 L265.3,509.2 L263.3,513.0 Z" fill="#000" stroke="none" stroke-width="1"/>
<text x="305.4" y="465.0" font-size="9.6" textLength="16.6" lengthAdjust="spacingAndGlyphs" fill="#3d5a98" stroke="#3d5a98">P3.6</text>
<line x1="303.5" y1="468.4" x2="303.5" y2="540.75" stroke="#000" stroke-width="1.0"/>
<line x1="302.75" y1="540.5" x2="371.8" y2="540.5" stroke="#000" stroke-width="1.0"/>
<line x1="300.59999999999997" y1="470.5" x2="303.2" y2="470.5" stroke="#000" stroke-width="0.8"/>
<line x1="300.59999999999997" y1="494.1" x2="303.2" y2="494.1" stroke="#000" stroke-width="0.8"/>
<line x1="300.59999999999997" y1="517.5" x2="303.2" y2="517.5" stroke="#000" stroke-width="0.8"/>
<line x1="300.59999999999997" y1="540.3" x2="303.2" y2="540.3" stroke="#000" stroke-width="0.8"/>
<text x="298.59999999999997" y="473.2" font-size="7.6" text-anchor="end" fill="#231f20" stroke="#231f20">600</text>
<text x="298.59999999999997" y="496.8" font-size="7.6" text-anchor="end" fill="#231f20" stroke="#231f20">400</text>
<text x="298.59999999999997" y="520.2" font-size="7.6" text-anchor="end" fill="#231f20" stroke="#231f20">200</text>
<text x="298.59999999999997" y="543.0" font-size="7.6" text-anchor="end" fill="#231f20" stroke="#231f20">0</text>
<line x1="316.5" y1="540.3" x2="316.5" y2="542.9" stroke="#000" stroke-width="0.8"/>
<line x1="324.65" y1="540.3" x2="324.65" y2="542.9" stroke="#000" stroke-width="0.8"/>
<line x1="332.8" y1="540.3" x2="332.8" y2="542.9" stroke="#000" stroke-width="0.8"/>
<line x1="340.95" y1="540.3" x2="340.95" y2="542.9" stroke="#000" stroke-width="0.8"/>
<line x1="349.1" y1="540.3" x2="349.1" y2="542.9" stroke="#000" stroke-width="0.8"/>
<line x1="357.25" y1="540.3" x2="357.25" y2="542.9" stroke="#000" stroke-width="0.8"/>
<line x1="365.4" y1="540.3" x2="365.4" y2="542.9" stroke="#000" stroke-width="0.8"/>
<text x="315.3" y="554.3" font-size="7.6" text-anchor="middle" fill="#231f20" stroke="#231f20">10<tspan font-size="5.6" dy="-3">1</tspan></text>
<text x="331.6" y="554.3" font-size="7.6" text-anchor="middle" fill="#231f20" stroke="#231f20">10<tspan font-size="5.6" dy="-3">3</tspan></text>
<text x="347.90000000000003" y="554.3" font-size="7.6" text-anchor="middle" fill="#231f20" stroke="#231f20">10<tspan font-size="5.6" dy="-3">5</tspan></text>
<text x="364.2" y="554.3" font-size="7.6" text-anchor="middle" fill="#231f20" stroke="#231f20">10<tspan font-size="5.6" dy="-3">7</tspan></text>
<path d="M349.10,539.60 L357.25,537.20 L365.40,516.50" fill="none" stroke="#24478c" stroke-width="1.0" stroke-linejoin="round"/>
<circle cx="349.10" cy="539.60" r="1.3" fill="#24478c"/>
<circle cx="357.25" cy="537.20" r="1.3" fill="#24478c"/>
<circle cx="365.40" cy="516.50" r="1.3" fill="#24478c"/>
<line x1="357.25" y1="536.0" x2="357.25" y2="538.4000000000001" stroke="#24478c" stroke-width="0.8"/>
<line x1="355.95" y1="536.0" x2="358.55" y2="536.0" stroke="#24478c" stroke-width="0.8"/>
<line x1="355.95" y1="538.4000000000001" x2="358.55" y2="538.4000000000001" stroke="#24478c" stroke-width="0.8"/>
<line x1="365.4" y1="515.0" x2="365.4" y2="518.0" stroke="#24478c" stroke-width="0.8"/>
<line x1="364.09999999999997" y1="515.0" x2="366.7" y2="515.0" stroke="#24478c" stroke-width="0.8"/>
<line x1="364.09999999999997" y1="518.0" x2="366.7" y2="518.0" stroke="#24478c" stroke-width="0.8"/>
<path d="M340.95,540.30 L349.10,538.40 L357.25,517.40 L365.40,483.40" fill="none" stroke="#b8133c" stroke-width="1.0" stroke-linejoin="round"/>
<circle cx="340.95" cy="540.30" r="1.3" fill="#b8133c"/>
<circle cx="349.10" cy="538.40" r="1.3" fill="#b8133c"/>
<circle cx="357.25" cy="517.40" r="1.3" fill="#b8133c"/>
<circle cx="365.40" cy="483.40" r="1.3" fill="#b8133c"/>
<line x1="349.1" y1="537.1999999999999" x2="349.1" y2="539.6" stroke="#b8133c" stroke-width="0.8"/>
<line x1="347.8" y1="537.1999999999999" x2="350.40000000000003" y2="537.1999999999999" stroke="#b8133c" stroke-width="0.8"/>
<line x1="347.8" y1="539.6" x2="350.40000000000003" y2="539.6" stroke="#b8133c" stroke-width="0.8"/>
<line x1="357.25" y1="515.4" x2="357.25" y2="519.4" stroke="#b8133c" stroke-width="0.8"/>
<line x1="355.95" y1="515.4" x2="358.55" y2="515.4" stroke="#b8133c" stroke-width="0.8"/>
<line x1="355.95" y1="519.4" x2="358.55" y2="519.4" stroke="#b8133c" stroke-width="0.8"/>
<line x1="365.4" y1="479.2" x2="365.4" y2="487.59999999999997" stroke="#b8133c" stroke-width="0.8"/>
<line x1="364.09999999999997" y1="479.2" x2="366.7" y2="479.2" stroke="#b8133c" stroke-width="0.8"/>
<line x1="364.09999999999997" y1="487.59999999999997" x2="366.7" y2="487.59999999999997" stroke="#b8133c" stroke-width="0.8"/>
<text x="329.6" y="502.8" font-size="7.4" textLength="28.9" lengthAdjust="spacingAndGlyphs" fill="#231f20" stroke="#231f20">P=0.0002</text>
<line x1="356.4" y1="505.9" x2="356.4" y2="509.8" stroke="#000" stroke-width="0.95"/>
<path d="M354.4,509.3 L358.4,509.3 L356.4,513.1 Z" fill="#000" stroke="none" stroke-width="1"/>
<text x="400.3" y="465.0" font-size="9.6" textLength="16.6" lengthAdjust="spacingAndGlyphs" fill="#3d5a98" stroke="#3d5a98">P3.7</text>
<line x1="397.5" y1="468.4" x2="397.5" y2="540.75" stroke="#000" stroke-width="1.0"/>
<line x1="396.95" y1="540.5" x2="465.9" y2="540.5" stroke="#000" stroke-width="1.0"/>
<line x1="394.79999999999995" y1="470.5" x2="397.4" y2="470.5" stroke="#000" stroke-width="0.8"/>
<line x1="394.79999999999995" y1="494.1" x2="397.4" y2="494.1" stroke="#000" stroke-width="0.8"/>
<line x1="394.79999999999995" y1="517.5" x2="397.4" y2="517.5" stroke="#000" stroke-width="0.8"/>
<line x1="394.79999999999995" y1="540.3" x2="397.4" y2="540.3" stroke="#000" stroke-width="0.8"/>
<text x="392.79999999999995" y="473.2" font-size="7.6" text-anchor="end" fill="#231f20" stroke="#231f20">600</text>
<text x="392.79999999999995" y="496.8" font-size="7.6" text-anchor="end" fill="#231f20" stroke="#231f20">400</text>
<text x="392.79999999999995" y="520.2" font-size="7.6" text-anchor="end" fill="#231f20" stroke="#231f20">200</text>
<text x="392.79999999999995" y="543.0" font-size="7.6" text-anchor="end" fill="#231f20" stroke="#231f20">0</text>
<line x1="410.0" y1="540.3" x2="410.0" y2="542.9" stroke="#000" stroke-width="0.8"/>
<line x1="418.27" y1="540.3" x2="418.27" y2="542.9" stroke="#000" stroke-width="0.8"/>
<line x1="426.54" y1="540.3" x2="426.54" y2="542.9" stroke="#000" stroke-width="0.8"/>
<line x1="434.81" y1="540.3" x2="434.81" y2="542.9" stroke="#000" stroke-width="0.8"/>
<line x1="443.08" y1="540.3" x2="443.08" y2="542.9" stroke="#000" stroke-width="0.8"/>
<line x1="451.35" y1="540.3" x2="451.35" y2="542.9" stroke="#000" stroke-width="0.8"/>
<line x1="459.62" y1="540.3" x2="459.62" y2="542.9" stroke="#000" stroke-width="0.8"/>
<text x="408.8" y="554.3" font-size="7.6" text-anchor="middle" fill="#231f20" stroke="#231f20">10<tspan font-size="5.6" dy="-3">1</tspan></text>
<text x="425.34000000000003" y="554.3" font-size="7.6" text-anchor="middle" fill="#231f20" stroke="#231f20">10<tspan font-size="5.6" dy="-3">3</tspan></text>
<text x="441.88" y="554.3" font-size="7.6" text-anchor="middle" fill="#231f20" stroke="#231f20">10<tspan font-size="5.6" dy="-3">5</tspan></text>
<text x="458.42" y="554.3" font-size="7.6" text-anchor="middle" fill="#231f20" stroke="#231f20">10<tspan font-size="5.6" dy="-3">7</tspan></text>
<path d="M443.08,540.30 L451.35,540.30 L459.62,533.00" fill="none" stroke="#24478c" stroke-width="1.0" stroke-linejoin="round"/>
<circle cx="443.08" cy="540.30" r="1.3" fill="#24478c"/>
<circle cx="451.35" cy="540.30" r="1.3" fill="#24478c"/>
<circle cx="459.62" cy="533.00" r="1.3" fill="#24478c"/>
<path d="M410.00,540.30 L418.27,540.30 L426.54,538.90 L434.81,540.30 L443.08,540.30 L451.35,534.20 L459.62,498.00" fill="none" stroke="#b8133c" stroke-width="1.0" stroke-linejoin="round"/>
<circle cx="410.00" cy="540.30" r="1.3" fill="#b8133c"/>
<circle cx="418.27" cy="540.30" r="1.3" fill="#b8133c"/>
<circle cx="426.54" cy="538.90" r="1.3" fill="#b8133c"/>
<circle cx="434.81" cy="540.30" r="1.3" fill="#b8133c"/>
<circle cx="443.08" cy="540.30" r="1.3" fill="#b8133c"/>
<circle cx="451.35" cy="534.20" r="1.3" fill="#b8133c"/>
<circle cx="459.62" cy="498.00" r="1.3" fill="#b8133c"/>
<line x1="451.35" y1="533.0" x2="451.35" y2="535.4000000000001" stroke="#b8133c" stroke-width="0.8"/>
<line x1="450.05" y1="533.0" x2="452.65000000000003" y2="533.0" stroke="#b8133c" stroke-width="0.8"/>
<line x1="450.05" y1="535.4000000000001" x2="452.65000000000003" y2="535.4000000000001" stroke="#b8133c" stroke-width="0.8"/>
<line x1="459.62" y1="496.4" x2="459.62" y2="499.6" stroke="#b8133c" stroke-width="0.8"/>
<line x1="458.32" y1="496.4" x2="460.92" y2="496.4" stroke="#b8133c" stroke-width="0.8"/>
<line x1="458.32" y1="499.6" x2="460.92" y2="499.6" stroke="#b8133c" stroke-width="0.8"/>
<text x="422.7" y="516.2" font-size="7.4" textLength="29.3" lengthAdjust="spacingAndGlyphs" fill="#231f20" stroke="#231f20">P=0.0026</text>
<line x1="450.6" y1="520.2" x2="450.6" y2="524.2" stroke="#000" stroke-width="0.95"/>
<path d="M448.6,523.7 L452.6,523.7 L450.6,527.5 Z" fill="#000" stroke="none" stroke-width="1"/>
<line x1="214.0" y1="475.8" x2="222.2" y2="475.8" stroke="#b8133c" stroke-width="0.9"/>
<circle cx="218.3" cy="475.8" r="1.2" fill="#b8133c"/>
<text x="224.0" y="478.6" font-size="7.8" textLength="12.8" lengthAdjust="spacingAndGlyphs" fill="#b8133c" stroke="#b8133c">Mut</text>
<line x1="214.0" y1="487.7" x2="222.2" y2="487.7" stroke="#24478c" stroke-width="0.9"/>
<circle cx="218.3" cy="487.7" r="1.2" fill="#24478c"/>
<text x="224.0" y="490.5" font-size="7.8" textLength="10.6" lengthAdjust="spacingAndGlyphs" fill="#24478c" stroke="#24478c">WT</text>
<text transform="translate(184.7,508.7) rotate(-90)" x="0" y="0" font-size="9.0" textLength="51.8" lengthAdjust="spacingAndGlyphs" text-anchor="middle" fill="#231f20" stroke="#231f20">IL-2 (pg/ml)</text>
<text x="307.7" y="566.8" font-size="9.4" textLength="62.3" lengthAdjust="spacingAndGlyphs" fill="#231f20" stroke="#231f20">Peptide (pg/ml)</text>
<text x="222.4" y="588.1" font-size="11.2" textLength="5.9" lengthAdjust="spacingAndGlyphs" fill="#231f20" stroke="#231f20">F</text>
<line x1="264.5" y1="595.8" x2="264.5" y2="670.6" stroke="#000" stroke-width="1.0"/>
<line x1="263.7" y1="670.5" x2="338.7" y2="670.5" stroke="#000" stroke-width="1.0"/>
<line x1="261.5" y1="670.2" x2="264.1" y2="670.2" stroke="#000" stroke-width="0.8"/>
<text x="260.2" y="672.9000000000001" font-size="7.6" text-anchor="end" fill="#231f20" stroke="#231f20">0</text>
<line x1="261.5" y1="652.2750000000001" x2="264.1" y2="652.2750000000001" stroke="#000" stroke-width="0.8"/>
<text x="260.2" y="654.9750000000001" font-size="7.6" text-anchor="end" fill="#231f20" stroke="#231f20">50</text>
<line x1="261.5" y1="634.35" x2="264.1" y2="634.35" stroke="#000" stroke-width="0.8"/>
<text x="260.2" y="637.0500000000001" font-size="7.6" text-anchor="end" fill="#231f20" stroke="#231f20">100</text>
<line x1="261.5" y1="616.425" x2="264.1" y2="616.425" stroke="#000" stroke-width="0.8"/>
<text x="260.2" y="619.125" font-size="7.6" text-anchor="end" fill="#231f20" stroke="#231f20">150</text>
<line x1="261.5" y1="598.5" x2="264.1" y2="598.5" stroke="#000" stroke-width="0.8"/>
<text x="260.2" y="601.2" font-size="7.6" text-anchor="end" fill="#231f20" stroke="#231f20">200</text>
<rect x="270.4" y="627.9" width="4.2000000000000455" height="42.30000000000007" fill="#a50026"/>
<line x1="272.5" y1="626.5" x2="272.5" y2="627.9" stroke="#222" stroke-width="0.8"/>
<line x1="271.4" y1="626.5" x2="273.6" y2="626.5" stroke="#222" stroke-width="0.9"/>
<rect x="276.9" y="666.9" width="4.100000000000023" height="3.300000000000068" fill="#5cb030"/>
<rect x="294.2" y="636.9" width="4.300000000000011" height="33.30000000000007" fill="#a50026"/>
<line x1="296.35" y1="635.5" x2="296.35" y2="636.9" stroke="#222" stroke-width="0.8"/>
<line x1="295.25" y1="635.5" x2="297.45000000000005" y2="635.5" stroke="#222" stroke-width="0.9"/>
<rect x="318.0" y="611.2" width="3.8999999999999773" height="59.0" fill="#a50026"/>
<line x1="319.95" y1="609.8000000000001" x2="319.95" y2="611.2" stroke="#222" stroke-width="0.8"/>
<line x1="318.84999999999997" y1="609.8000000000001" x2="321.05" y2="609.8000000000001" stroke="#222" stroke-width="0.9"/>
<line x1="279.0" y1="670.2" x2="279.0" y2="672.7" stroke="#000" stroke-width="0.8"/>
<text x="279.0" y="684.0" font-size="7.6" textLength="14.2" lengthAdjust="spacingAndGlyphs" text-anchor="middle" fill="#231f20" stroke="#231f20">P3.3</text>
<line x1="302.6" y1="670.2" x2="302.6" y2="672.7" stroke="#000" stroke-width="0.8"/>
<text x="302.6" y="684.0" font-size="7.6" textLength="14.2" lengthAdjust="spacingAndGlyphs" text-anchor="middle" fill="#231f20" stroke="#231f20">P3.6</text>
<line x1="326.2" y1="670.2" x2="326.2" y2="672.7" stroke="#000" stroke-width="0.8"/>
<text x="326.2" y="684.0" font-size="7.6" textLength="14.2" lengthAdjust="spacingAndGlyphs" text-anchor="middle" fill="#231f20" stroke="#231f20">P3.7</text>
<text x="270.3" y="695.0" font-size="9.0" textLength="65.0" lengthAdjust="spacingAndGlyphs" fill="#231f20" stroke="#231f20">mut-VPS16 TCRs</text>
<text transform="translate(239.3,634.6) rotate(-90)" x="0" y="0" font-size="9.0" textLength="46.2" lengthAdjust="spacingAndGlyphs" text-anchor="middle" fill="#231f20" stroke="#231f20">IL-2 (pg/ml)</text>
<rect x="336.9" y="623.5" width="5.1" height="2.8" fill="#a50026"/>
<text x="344.9" y="627.3" font-size="7.2" textLength="39.3" lengthAdjust="spacingAndGlyphs" fill="#231f20" stroke="#231f20">HLA-B*27:05</text>
<rect x="336.9" y="634.6" width="5.1" height="2.8" fill="#5cb030"/>
<text x="344.9" y="638.4" font-size="7.2" textLength="39.3" lengthAdjust="spacingAndGlyphs" fill="#231f20" stroke="#231f20">HLA-A*02:01</text>
<rect x="336.9" y="645.8" width="5.1" height="2.8" fill="#24407e"/>
<text x="344.9" y="649.5999999999999" font-size="7.2" textLength="39.3" lengthAdjust="spacingAndGlyphs" fill="#231f20" stroke="#231f20">HLA-A*03:01</text>
<rect x="0.7" y="0.7" width="518.6" height="700.6" fill="none" stroke="#0a0a0a" stroke-width="1.45"/>
</svg></body></html>
